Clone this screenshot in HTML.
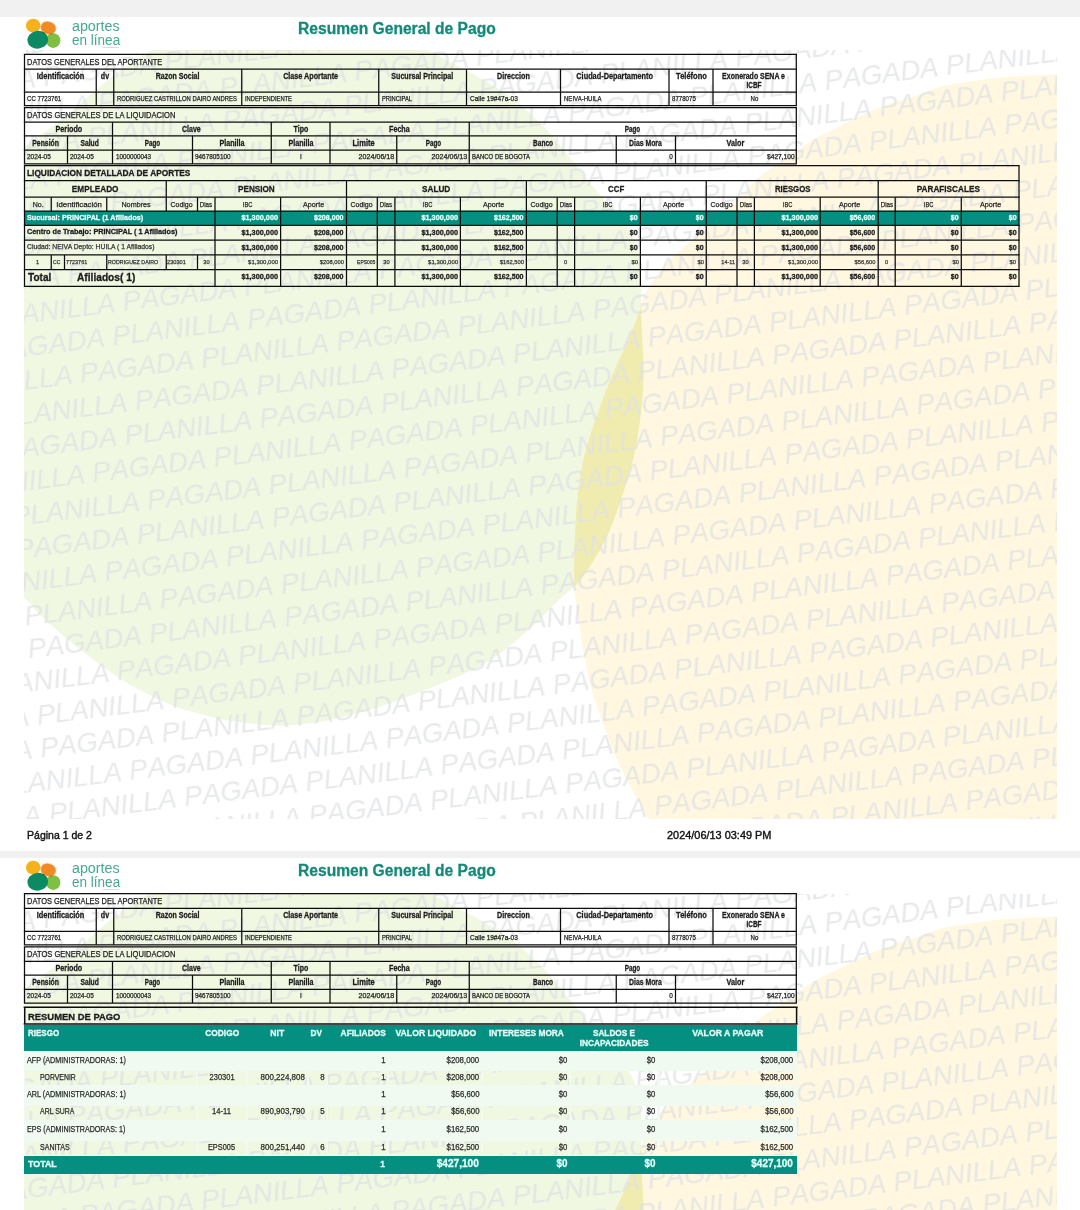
<!DOCTYPE html>
<html lang="es"><head><meta charset="utf-8"><title>Resumen General de Pago</title>
<style>
html,body{margin:0;padding:0}
body{width:1080px;height:1210px;overflow:hidden;position:relative;background:#f1f1f1;font-family:"Liberation Sans",sans-serif;}
.t{position:absolute;width:0;height:0;display:flex;overflow:visible}
.t span{white-space:nowrap;line-height:1;display:block;flex:none}
.bg{position:absolute;overflow:hidden}
#tx{position:absolute;left:0;top:0;width:1080px;height:1210px;will-change:transform}
.wm{position:absolute;left:0;top:0;width:0;height:0;transform-origin:0 0;transform:rotate(-7.065deg);
  filter:blur(0.45px);font-style:italic;font-kerning:none;font-size:27.51px;line-height:1;color:rgba(222,225,227,0.72);white-space:nowrap}
.wm div{position:absolute;white-space:nowrap}
</style></head><body>
<div style="position:absolute;left:0.00px;top:17.00px;width:1080.00px;height:834.20px;background:#fff;"></div>
<div style="position:absolute;left:0.00px;top:858.20px;width:1080.00px;height:351.80px;background:#fff;"></div>
<div class="bg" style="left:24px;top:49.50px;width:1032.60px;height:769.70px">
<div style="position:absolute;left:-24px;top:-49.50px;width:1080px;height:900px">
<svg width="1080" height="900" viewBox="0 0 1080 900" style="position:absolute;left:0;top:0"><defs><clipPath id="g0"><path d="M150.0,51.0C135.3,58.8 122.0,69.6 112.0,77.0C102.0,84.4 97.7,89.0 90.0,95.5C82.3,102.0 73.3,110.1 66.0,116.0C58.7,121.9 53.0,125.8 46.0,131.0C39.0,136.2 33.0,140.8 24.0,147.0C15.0,153.2 2.3,158.3 -8.0,168.0C-18.3,177.7 -29.0,189.7 -38.0,205.0C-47.0,220.3 -55.8,239.2 -62.0,260.0C-68.2,280.8 -72.3,306.7 -75.0,330.0C-77.7,353.3 -79.2,376.7 -78.0,400.0C-76.8,423.3 -73.5,449.2 -68.0,470.0C-62.5,490.8 -54.3,509.3 -45.0,525.0C-35.7,540.7 -23.6,551.9 -12.0,564.0C-0.4,576.1 15.4,589.0 24.4,597.8C33.4,606.6 35.5,610.2 42.2,616.7C48.9,623.2 57.0,630.4 64.4,636.7C71.8,643.0 79.3,648.7 86.7,654.4C94.1,660.1 101.5,665.9 108.9,671.1C116.3,676.3 123.7,681.3 131.1,685.6C138.5,689.9 145.9,693.2 153.3,696.7C160.7,700.2 168.2,703.9 175.6,706.7C183.0,709.5 190.4,711.3 197.8,713.3C205.2,715.3 212.6,717.4 220.0,718.9C227.4,720.4 233.5,721.1 242.2,722.2C250.9,723.3 263.5,725.2 272.2,725.6C280.9,726.0 287.0,725.5 294.4,724.9C301.8,724.3 309.3,723.4 316.7,722.2C324.1,721.0 331.5,719.5 338.9,717.8C346.3,716.1 353.7,714.2 361.1,712.2C368.5,710.2 375.9,708.0 383.3,705.6C390.7,703.2 398.2,700.6 405.6,697.8C413.0,695.0 420.4,691.9 427.8,688.9C435.2,685.9 442.6,683.1 450.0,680.0C457.4,676.9 465.2,673.5 472.2,670.0C479.2,666.5 485.2,663.6 492.2,659.0C499.2,654.4 507.0,648.3 514.4,642.2C521.8,636.1 529.3,629.2 536.7,622.2C544.1,615.2 552.7,605.9 558.9,600.0C565.1,594.1 570.3,590.4 574.0,587.0C577.7,583.6 577.9,583.7 581.0,579.5C584.1,575.3 589.1,567.8 592.9,561.7C596.6,555.7 600.0,550.2 603.5,543.2C607.0,536.2 610.8,527.8 614.1,519.4C617.4,511.0 620.4,501.7 623.3,492.9C626.2,484.1 629.0,475.3 631.3,466.5C633.6,457.7 635.4,450.4 637.2,440.0C639.0,429.6 640.8,415.2 641.9,404.0C643.0,392.8 643.5,382.8 643.6,373.0C643.7,363.2 642.9,353.8 642.5,345.0C642.1,336.2 641.8,327.5 641.5,320.0C641.2,312.5 641.1,307.5 641.0,300.0C640.9,292.5 641.5,283.3 641.0,275.0C640.5,266.7 640.2,257.8 638.0,250.0C635.8,242.2 632.3,235.0 628.0,228.0C623.7,221.0 617.7,214.7 612.0,208.0C606.3,201.3 601.0,196.3 594.0,188.0C587.0,179.7 578.0,167.8 570.0,158.0C562.0,148.2 555.5,138.8 546.0,129.0C536.5,119.2 525.8,108.5 513.0,99.0C500.2,89.5 487.8,81.8 469.0,72.0C450.2,62.2 428.2,48.3 400.0,40.0C371.8,31.7 333.3,23.7 300.0,22.0C266.7,20.3 225.0,25.2 200.0,30.0C175.0,34.8 164.7,43.2 150.0,51.0Z"/></clipPath></defs><path d="M150.0,51.0C135.3,58.8 122.0,69.6 112.0,77.0C102.0,84.4 97.7,89.0 90.0,95.5C82.3,102.0 73.3,110.1 66.0,116.0C58.7,121.9 53.0,125.8 46.0,131.0C39.0,136.2 33.0,140.8 24.0,147.0C15.0,153.2 2.3,158.3 -8.0,168.0C-18.3,177.7 -29.0,189.7 -38.0,205.0C-47.0,220.3 -55.8,239.2 -62.0,260.0C-68.2,280.8 -72.3,306.7 -75.0,330.0C-77.7,353.3 -79.2,376.7 -78.0,400.0C-76.8,423.3 -73.5,449.2 -68.0,470.0C-62.5,490.8 -54.3,509.3 -45.0,525.0C-35.7,540.7 -23.6,551.9 -12.0,564.0C-0.4,576.1 15.4,589.0 24.4,597.8C33.4,606.6 35.5,610.2 42.2,616.7C48.9,623.2 57.0,630.4 64.4,636.7C71.8,643.0 79.3,648.7 86.7,654.4C94.1,660.1 101.5,665.9 108.9,671.1C116.3,676.3 123.7,681.3 131.1,685.6C138.5,689.9 145.9,693.2 153.3,696.7C160.7,700.2 168.2,703.9 175.6,706.7C183.0,709.5 190.4,711.3 197.8,713.3C205.2,715.3 212.6,717.4 220.0,718.9C227.4,720.4 233.5,721.1 242.2,722.2C250.9,723.3 263.5,725.2 272.2,725.6C280.9,726.0 287.0,725.5 294.4,724.9C301.8,724.3 309.3,723.4 316.7,722.2C324.1,721.0 331.5,719.5 338.9,717.8C346.3,716.1 353.7,714.2 361.1,712.2C368.5,710.2 375.9,708.0 383.3,705.6C390.7,703.2 398.2,700.6 405.6,697.8C413.0,695.0 420.4,691.9 427.8,688.9C435.2,685.9 442.6,683.1 450.0,680.0C457.4,676.9 465.2,673.5 472.2,670.0C479.2,666.5 485.2,663.6 492.2,659.0C499.2,654.4 507.0,648.3 514.4,642.2C521.8,636.1 529.3,629.2 536.7,622.2C544.1,615.2 552.7,605.9 558.9,600.0C565.1,594.1 570.3,590.4 574.0,587.0C577.7,583.6 577.9,583.7 581.0,579.5C584.1,575.3 589.1,567.8 592.9,561.7C596.6,555.7 600.0,550.2 603.5,543.2C607.0,536.2 610.8,527.8 614.1,519.4C617.4,511.0 620.4,501.7 623.3,492.9C626.2,484.1 629.0,475.3 631.3,466.5C633.6,457.7 635.4,450.4 637.2,440.0C639.0,429.6 640.8,415.2 641.9,404.0C643.0,392.8 643.5,382.8 643.6,373.0C643.7,363.2 642.9,353.8 642.5,345.0C642.1,336.2 641.8,327.5 641.5,320.0C641.2,312.5 641.1,307.5 641.0,300.0C640.9,292.5 641.5,283.3 641.0,275.0C640.5,266.7 640.2,257.8 638.0,250.0C635.8,242.2 632.3,235.0 628.0,228.0C623.7,221.0 617.7,214.7 612.0,208.0C606.3,201.3 601.0,196.3 594.0,188.0C587.0,179.7 578.0,167.8 570.0,158.0C562.0,148.2 555.5,138.8 546.0,129.0C536.5,119.2 525.8,108.5 513.0,99.0C500.2,89.5 487.8,81.8 469.0,72.0C450.2,62.2 428.2,48.3 400.0,40.0C371.8,31.7 333.3,23.7 300.0,22.0C266.7,20.3 225.0,25.2 200.0,30.0C175.0,34.8 164.7,43.2 150.0,51.0Z" fill="#f0f8e1"/><path d="M1100.0,72.0C1092.6,-58.9 1067.4,73.8 1055.6,74.4C1043.8,75.0 1040.8,74.8 1028.9,75.6C1017.0,76.4 999.2,77.6 984.4,79.4C969.6,81.2 950.7,84.2 940.0,86.7C929.3,89.2 927.5,91.9 920.0,94.4C912.5,97.0 903.2,99.2 895.0,102.0C886.8,104.8 878.0,108.1 871.0,111.0C864.0,113.9 859.3,116.4 853.0,119.5C846.7,122.6 839.0,126.7 833.3,129.6C827.5,132.5 823.4,134.3 818.5,137.0C813.6,139.7 808.6,142.7 803.7,145.9C798.8,149.1 793.8,152.8 788.9,156.3C784.0,159.8 779.0,163.2 774.1,166.7C769.2,170.1 763.5,173.6 759.3,177.0C755.1,180.4 752.6,183.6 748.9,187.4C745.2,191.2 742.6,194.4 737.0,200.0C731.4,205.6 722.0,214.7 715.0,221.0C708.0,227.3 701.2,232.8 695.0,238.0C688.8,243.2 683.2,247.3 678.0,252.0C672.8,256.7 668.2,261.2 664.0,266.0C659.8,270.8 656.3,275.8 653.0,281.0C649.7,286.2 646.4,291.5 644.0,297.0C641.6,302.5 641.3,306.5 638.5,314.0C635.7,321.5 631.6,332.2 627.4,342.0C623.1,351.8 617.4,362.7 613.0,373.0C608.6,383.3 604.9,393.3 601.0,404.0C597.1,414.7 592.7,426.6 589.5,437.0C586.3,447.4 583.9,457.2 582.0,466.5C580.1,475.8 579.1,484.1 578.0,493.0C576.9,501.9 576.2,511.2 575.6,520.0C575.0,528.8 574.9,537.3 574.6,546.0C574.4,554.7 574.2,565.0 574.1,572.0C574.0,579.0 573.6,582.2 574.0,588.0C574.4,593.8 575.7,599.9 576.7,606.7C577.7,613.5 578.9,621.5 580.0,628.9C581.1,636.3 582.0,643.7 583.3,651.1C584.6,658.5 586.1,665.9 587.8,673.3C589.5,680.7 590.5,686.6 593.3,695.6C596.1,704.6 600.4,716.2 604.4,727.0C608.4,737.8 612.5,749.3 617.4,760.4C622.3,771.5 628.8,784.0 634.0,793.7C639.2,803.4 642.9,807.7 648.9,818.7C654.9,829.8 594.8,853.1 670.0,860.0C745.2,866.9 1028.3,991.3 1100.0,860.0C1171.7,728.7 1107.4,202.9 1100.0,72.0Z" fill="#fff7e0"/><path d="M1100.0,72.0C1092.6,-58.9 1067.4,73.8 1055.6,74.4C1043.8,75.0 1040.8,74.8 1028.9,75.6C1017.0,76.4 999.2,77.6 984.4,79.4C969.6,81.2 950.7,84.2 940.0,86.7C929.3,89.2 927.5,91.9 920.0,94.4C912.5,97.0 903.2,99.2 895.0,102.0C886.8,104.8 878.0,108.1 871.0,111.0C864.0,113.9 859.3,116.4 853.0,119.5C846.7,122.6 839.0,126.7 833.3,129.6C827.5,132.5 823.4,134.3 818.5,137.0C813.6,139.7 808.6,142.7 803.7,145.9C798.8,149.1 793.8,152.8 788.9,156.3C784.0,159.8 779.0,163.2 774.1,166.7C769.2,170.1 763.5,173.6 759.3,177.0C755.1,180.4 752.6,183.6 748.9,187.4C745.2,191.2 742.6,194.4 737.0,200.0C731.4,205.6 722.0,214.7 715.0,221.0C708.0,227.3 701.2,232.8 695.0,238.0C688.8,243.2 683.2,247.3 678.0,252.0C672.8,256.7 668.2,261.2 664.0,266.0C659.8,270.8 656.3,275.8 653.0,281.0C649.7,286.2 646.4,291.5 644.0,297.0C641.6,302.5 641.3,306.5 638.5,314.0C635.7,321.5 631.6,332.2 627.4,342.0C623.1,351.8 617.4,362.7 613.0,373.0C608.6,383.3 604.9,393.3 601.0,404.0C597.1,414.7 592.7,426.6 589.5,437.0C586.3,447.4 583.9,457.2 582.0,466.5C580.1,475.8 579.1,484.1 578.0,493.0C576.9,501.9 576.2,511.2 575.6,520.0C575.0,528.8 574.9,537.3 574.6,546.0C574.4,554.7 574.2,565.0 574.1,572.0C574.0,579.0 573.6,582.2 574.0,588.0C574.4,593.8 575.7,599.9 576.7,606.7C577.7,613.5 578.9,621.5 580.0,628.9C581.1,636.3 582.0,643.7 583.3,651.1C584.6,658.5 586.1,665.9 587.8,673.3C589.5,680.7 590.5,686.6 593.3,695.6C596.1,704.6 600.4,716.2 604.4,727.0C608.4,737.8 612.5,749.3 617.4,760.4C622.3,771.5 628.8,784.0 634.0,793.7C639.2,803.4 642.9,807.7 648.9,818.7C654.9,829.8 594.8,853.1 670.0,860.0C745.2,866.9 1028.3,991.3 1100.0,860.0C1171.7,728.7 1107.4,202.9 1100.0,72.0Z" fill="#f0ecb0" clip-path="url(#g0)"/></svg>
<div class="wm">
<div style="left:-361.0px;top:-32.37px">PLANILLA PAGADA PLANILLA PAGADA PLANILLA PAGADA PLANILLA PAGADA PLANILLA PAGADA PLANILLA PAGADA PLANILLA PAGADA </div>
<div style="left:-309.8px;top:0.94px">PLANILLA PAGADA PLANILLA PAGADA PLANILLA PAGADA PLANILLA PAGADA PLANILLA PAGADA PLANILLA PAGADA PLANILLA PAGADA </div>
<div style="left:-446.7px;top:34.26px">PLANILLA PAGADA PLANILLA PAGADA PLANILLA PAGADA PLANILLA PAGADA PLANILLA PAGADA PLANILLA PAGADA PLANILLA PAGADA </div>
<div style="left:-361.0px;top:67.57px">PLANILLA PAGADA PLANILLA PAGADA PLANILLA PAGADA PLANILLA PAGADA PLANILLA PAGADA PLANILLA PAGADA PLANILLA PAGADA </div>
<div style="left:-309.8px;top:100.89px">PLANILLA PAGADA PLANILLA PAGADA PLANILLA PAGADA PLANILLA PAGADA PLANILLA PAGADA PLANILLA PAGADA PLANILLA PAGADA </div>
<div style="left:-446.7px;top:134.20px">PLANILLA PAGADA PLANILLA PAGADA PLANILLA PAGADA PLANILLA PAGADA PLANILLA PAGADA PLANILLA PAGADA PLANILLA PAGADA </div>
<div style="left:-361.0px;top:167.51px">PLANILLA PAGADA PLANILLA PAGADA PLANILLA PAGADA PLANILLA PAGADA PLANILLA PAGADA PLANILLA PAGADA PLANILLA PAGADA </div>
<div style="left:-309.8px;top:200.83px">PLANILLA PAGADA PLANILLA PAGADA PLANILLA PAGADA PLANILLA PAGADA PLANILLA PAGADA PLANILLA PAGADA PLANILLA PAGADA </div>
<div style="left:-446.7px;top:234.14px">PLANILLA PAGADA PLANILLA PAGADA PLANILLA PAGADA PLANILLA PAGADA PLANILLA PAGADA PLANILLA PAGADA PLANILLA PAGADA </div>
<div style="left:-361.0px;top:267.46px">PLANILLA PAGADA PLANILLA PAGADA PLANILLA PAGADA PLANILLA PAGADA PLANILLA PAGADA PLANILLA PAGADA PLANILLA PAGADA </div>
<div style="left:-309.8px;top:300.77px">PLANILLA PAGADA PLANILLA PAGADA PLANILLA PAGADA PLANILLA PAGADA PLANILLA PAGADA PLANILLA PAGADA PLANILLA PAGADA </div>
<div style="left:-446.7px;top:334.08px">PLANILLA PAGADA PLANILLA PAGADA PLANILLA PAGADA PLANILLA PAGADA PLANILLA PAGADA PLANILLA PAGADA PLANILLA PAGADA </div>
<div style="left:-361.0px;top:367.40px">PLANILLA PAGADA PLANILLA PAGADA PLANILLA PAGADA PLANILLA PAGADA PLANILLA PAGADA PLANILLA PAGADA PLANILLA PAGADA </div>
<div style="left:-309.8px;top:400.71px">PLANILLA PAGADA PLANILLA PAGADA PLANILLA PAGADA PLANILLA PAGADA PLANILLA PAGADA PLANILLA PAGADA PLANILLA PAGADA </div>
<div style="left:-446.7px;top:434.03px">PLANILLA PAGADA PLANILLA PAGADA PLANILLA PAGADA PLANILLA PAGADA PLANILLA PAGADA PLANILLA PAGADA PLANILLA PAGADA </div>
<div style="left:-361.0px;top:467.34px">PLANILLA PAGADA PLANILLA PAGADA PLANILLA PAGADA PLANILLA PAGADA PLANILLA PAGADA PLANILLA PAGADA PLANILLA PAGADA </div>
<div style="left:-309.8px;top:500.65px">PLANILLA PAGADA PLANILLA PAGADA PLANILLA PAGADA PLANILLA PAGADA PLANILLA PAGADA PLANILLA PAGADA PLANILLA PAGADA </div>
<div style="left:-446.7px;top:533.97px">PLANILLA PAGADA PLANILLA PAGADA PLANILLA PAGADA PLANILLA PAGADA PLANILLA PAGADA PLANILLA PAGADA PLANILLA PAGADA </div>
<div style="left:-361.0px;top:567.28px">PLANILLA PAGADA PLANILLA PAGADA PLANILLA PAGADA PLANILLA PAGADA PLANILLA PAGADA PLANILLA PAGADA PLANILLA PAGADA </div>
<div style="left:-309.8px;top:600.60px">PLANILLA PAGADA PLANILLA PAGADA PLANILLA PAGADA PLANILLA PAGADA PLANILLA PAGADA PLANILLA PAGADA PLANILLA PAGADA </div>
<div style="left:-446.7px;top:633.91px">PLANILLA PAGADA PLANILLA PAGADA PLANILLA PAGADA PLANILLA PAGADA PLANILLA PAGADA PLANILLA PAGADA PLANILLA PAGADA </div>
<div style="left:-361.0px;top:667.22px">PLANILLA PAGADA PLANILLA PAGADA PLANILLA PAGADA PLANILLA PAGADA PLANILLA PAGADA PLANILLA PAGADA PLANILLA PAGADA </div>
<div style="left:-309.8px;top:700.54px">PLANILLA PAGADA PLANILLA PAGADA PLANILLA PAGADA PLANILLA PAGADA PLANILLA PAGADA PLANILLA PAGADA PLANILLA PAGADA </div>
<div style="left:-446.7px;top:733.85px">PLANILLA PAGADA PLANILLA PAGADA PLANILLA PAGADA PLANILLA PAGADA PLANILLA PAGADA PLANILLA PAGADA PLANILLA PAGADA </div>
<div style="left:-361.0px;top:767.17px">PLANILLA PAGADA PLANILLA PAGADA PLANILLA PAGADA PLANILLA PAGADA PLANILLA PAGADA PLANILLA PAGADA PLANILLA PAGADA </div>
<div style="left:-309.8px;top:800.48px">PLANILLA PAGADA PLANILLA PAGADA PLANILLA PAGADA PLANILLA PAGADA PLANILLA PAGADA PLANILLA PAGADA PLANILLA PAGADA </div>
<div style="left:-446.7px;top:833.79px">PLANILLA PAGADA PLANILLA PAGADA PLANILLA PAGADA PLANILLA PAGADA PLANILLA PAGADA PLANILLA PAGADA PLANILLA PAGADA </div>
<div style="left:-361.0px;top:867.11px">PLANILLA PAGADA PLANILLA PAGADA PLANILLA PAGADA PLANILLA PAGADA PLANILLA PAGADA PLANILLA PAGADA PLANILLA PAGADA </div>
<div style="left:-309.8px;top:900.42px">PLANILLA PAGADA PLANILLA PAGADA PLANILLA PAGADA PLANILLA PAGADA PLANILLA PAGADA PLANILLA PAGADA PLANILLA PAGADA </div>
<div style="left:-446.7px;top:933.74px">PLANILLA PAGADA PLANILLA PAGADA PLANILLA PAGADA PLANILLA PAGADA PLANILLA PAGADA PLANILLA PAGADA PLANILLA PAGADA </div>
<div style="left:-361.0px;top:967.05px">PLANILLA PAGADA PLANILLA PAGADA PLANILLA PAGADA PLANILLA PAGADA PLANILLA PAGADA PLANILLA PAGADA PLANILLA PAGADA </div>
<div style="left:-309.8px;top:1000.36px">PLANILLA PAGADA PLANILLA PAGADA PLANILLA PAGADA PLANILLA PAGADA PLANILLA PAGADA PLANILLA PAGADA PLANILLA PAGADA </div>
</div></div></div>
<div class="bg" style="left:24px;top:893.80px;width:1032.60px;height:767.00px">
<div style="position:absolute;left:-24px;top:-52.20px;width:1080px;height:900px">
<svg width="1080" height="900" viewBox="0 0 1080 900" style="position:absolute;left:0;top:0"><defs><clipPath id="g841"><path d="M150.0,51.0C135.3,58.8 122.0,69.6 112.0,77.0C102.0,84.4 97.7,89.0 90.0,95.5C82.3,102.0 73.3,110.1 66.0,116.0C58.7,121.9 53.0,125.8 46.0,131.0C39.0,136.2 33.0,140.8 24.0,147.0C15.0,153.2 2.3,158.3 -8.0,168.0C-18.3,177.7 -29.0,189.7 -38.0,205.0C-47.0,220.3 -55.8,239.2 -62.0,260.0C-68.2,280.8 -72.3,306.7 -75.0,330.0C-77.7,353.3 -79.2,376.7 -78.0,400.0C-76.8,423.3 -73.5,449.2 -68.0,470.0C-62.5,490.8 -54.3,509.3 -45.0,525.0C-35.7,540.7 -23.6,551.9 -12.0,564.0C-0.4,576.1 15.4,589.0 24.4,597.8C33.4,606.6 35.5,610.2 42.2,616.7C48.9,623.2 57.0,630.4 64.4,636.7C71.8,643.0 79.3,648.7 86.7,654.4C94.1,660.1 101.5,665.9 108.9,671.1C116.3,676.3 123.7,681.3 131.1,685.6C138.5,689.9 145.9,693.2 153.3,696.7C160.7,700.2 168.2,703.9 175.6,706.7C183.0,709.5 190.4,711.3 197.8,713.3C205.2,715.3 212.6,717.4 220.0,718.9C227.4,720.4 233.5,721.1 242.2,722.2C250.9,723.3 263.5,725.2 272.2,725.6C280.9,726.0 287.0,725.5 294.4,724.9C301.8,724.3 309.3,723.4 316.7,722.2C324.1,721.0 331.5,719.5 338.9,717.8C346.3,716.1 353.7,714.2 361.1,712.2C368.5,710.2 375.9,708.0 383.3,705.6C390.7,703.2 398.2,700.6 405.6,697.8C413.0,695.0 420.4,691.9 427.8,688.9C435.2,685.9 442.6,683.1 450.0,680.0C457.4,676.9 465.2,673.5 472.2,670.0C479.2,666.5 485.2,663.6 492.2,659.0C499.2,654.4 507.0,648.3 514.4,642.2C521.8,636.1 529.3,629.2 536.7,622.2C544.1,615.2 552.7,605.9 558.9,600.0C565.1,594.1 570.3,590.4 574.0,587.0C577.7,583.6 577.9,583.7 581.0,579.5C584.1,575.3 589.1,567.8 592.9,561.7C596.6,555.7 600.0,550.2 603.5,543.2C607.0,536.2 610.8,527.8 614.1,519.4C617.4,511.0 620.4,501.7 623.3,492.9C626.2,484.1 629.0,475.3 631.3,466.5C633.6,457.7 635.4,450.4 637.2,440.0C639.0,429.6 640.8,415.2 641.9,404.0C643.0,392.8 643.5,382.8 643.6,373.0C643.7,363.2 642.9,353.8 642.5,345.0C642.1,336.2 641.8,327.5 641.5,320.0C641.2,312.5 641.1,307.5 641.0,300.0C640.9,292.5 641.5,283.3 641.0,275.0C640.5,266.7 640.2,257.8 638.0,250.0C635.8,242.2 632.3,235.0 628.0,228.0C623.7,221.0 617.7,214.7 612.0,208.0C606.3,201.3 601.0,196.3 594.0,188.0C587.0,179.7 578.0,167.8 570.0,158.0C562.0,148.2 555.5,138.8 546.0,129.0C536.5,119.2 525.8,108.5 513.0,99.0C500.2,89.5 487.8,81.8 469.0,72.0C450.2,62.2 428.2,48.3 400.0,40.0C371.8,31.7 333.3,23.7 300.0,22.0C266.7,20.3 225.0,25.2 200.0,30.0C175.0,34.8 164.7,43.2 150.0,51.0Z"/></clipPath></defs><path d="M150.0,51.0C135.3,58.8 122.0,69.6 112.0,77.0C102.0,84.4 97.7,89.0 90.0,95.5C82.3,102.0 73.3,110.1 66.0,116.0C58.7,121.9 53.0,125.8 46.0,131.0C39.0,136.2 33.0,140.8 24.0,147.0C15.0,153.2 2.3,158.3 -8.0,168.0C-18.3,177.7 -29.0,189.7 -38.0,205.0C-47.0,220.3 -55.8,239.2 -62.0,260.0C-68.2,280.8 -72.3,306.7 -75.0,330.0C-77.7,353.3 -79.2,376.7 -78.0,400.0C-76.8,423.3 -73.5,449.2 -68.0,470.0C-62.5,490.8 -54.3,509.3 -45.0,525.0C-35.7,540.7 -23.6,551.9 -12.0,564.0C-0.4,576.1 15.4,589.0 24.4,597.8C33.4,606.6 35.5,610.2 42.2,616.7C48.9,623.2 57.0,630.4 64.4,636.7C71.8,643.0 79.3,648.7 86.7,654.4C94.1,660.1 101.5,665.9 108.9,671.1C116.3,676.3 123.7,681.3 131.1,685.6C138.5,689.9 145.9,693.2 153.3,696.7C160.7,700.2 168.2,703.9 175.6,706.7C183.0,709.5 190.4,711.3 197.8,713.3C205.2,715.3 212.6,717.4 220.0,718.9C227.4,720.4 233.5,721.1 242.2,722.2C250.9,723.3 263.5,725.2 272.2,725.6C280.9,726.0 287.0,725.5 294.4,724.9C301.8,724.3 309.3,723.4 316.7,722.2C324.1,721.0 331.5,719.5 338.9,717.8C346.3,716.1 353.7,714.2 361.1,712.2C368.5,710.2 375.9,708.0 383.3,705.6C390.7,703.2 398.2,700.6 405.6,697.8C413.0,695.0 420.4,691.9 427.8,688.9C435.2,685.9 442.6,683.1 450.0,680.0C457.4,676.9 465.2,673.5 472.2,670.0C479.2,666.5 485.2,663.6 492.2,659.0C499.2,654.4 507.0,648.3 514.4,642.2C521.8,636.1 529.3,629.2 536.7,622.2C544.1,615.2 552.7,605.9 558.9,600.0C565.1,594.1 570.3,590.4 574.0,587.0C577.7,583.6 577.9,583.7 581.0,579.5C584.1,575.3 589.1,567.8 592.9,561.7C596.6,555.7 600.0,550.2 603.5,543.2C607.0,536.2 610.8,527.8 614.1,519.4C617.4,511.0 620.4,501.7 623.3,492.9C626.2,484.1 629.0,475.3 631.3,466.5C633.6,457.7 635.4,450.4 637.2,440.0C639.0,429.6 640.8,415.2 641.9,404.0C643.0,392.8 643.5,382.8 643.6,373.0C643.7,363.2 642.9,353.8 642.5,345.0C642.1,336.2 641.8,327.5 641.5,320.0C641.2,312.5 641.1,307.5 641.0,300.0C640.9,292.5 641.5,283.3 641.0,275.0C640.5,266.7 640.2,257.8 638.0,250.0C635.8,242.2 632.3,235.0 628.0,228.0C623.7,221.0 617.7,214.7 612.0,208.0C606.3,201.3 601.0,196.3 594.0,188.0C587.0,179.7 578.0,167.8 570.0,158.0C562.0,148.2 555.5,138.8 546.0,129.0C536.5,119.2 525.8,108.5 513.0,99.0C500.2,89.5 487.8,81.8 469.0,72.0C450.2,62.2 428.2,48.3 400.0,40.0C371.8,31.7 333.3,23.7 300.0,22.0C266.7,20.3 225.0,25.2 200.0,30.0C175.0,34.8 164.7,43.2 150.0,51.0Z" fill="#f0f8e1"/><path d="M1100.0,72.0C1092.6,-58.9 1067.4,73.8 1055.6,74.4C1043.8,75.0 1040.8,74.8 1028.9,75.6C1017.0,76.4 999.2,77.6 984.4,79.4C969.6,81.2 950.7,84.2 940.0,86.7C929.3,89.2 927.5,91.9 920.0,94.4C912.5,97.0 903.2,99.2 895.0,102.0C886.8,104.8 878.0,108.1 871.0,111.0C864.0,113.9 859.3,116.4 853.0,119.5C846.7,122.6 839.0,126.7 833.3,129.6C827.5,132.5 823.4,134.3 818.5,137.0C813.6,139.7 808.6,142.7 803.7,145.9C798.8,149.1 793.8,152.8 788.9,156.3C784.0,159.8 779.0,163.2 774.1,166.7C769.2,170.1 763.5,173.6 759.3,177.0C755.1,180.4 752.6,183.6 748.9,187.4C745.2,191.2 742.6,194.4 737.0,200.0C731.4,205.6 722.0,214.7 715.0,221.0C708.0,227.3 701.2,232.8 695.0,238.0C688.8,243.2 683.2,247.3 678.0,252.0C672.8,256.7 668.2,261.2 664.0,266.0C659.8,270.8 656.3,275.8 653.0,281.0C649.7,286.2 646.4,291.5 644.0,297.0C641.6,302.5 641.3,306.5 638.5,314.0C635.7,321.5 631.6,332.2 627.4,342.0C623.1,351.8 617.4,362.7 613.0,373.0C608.6,383.3 604.9,393.3 601.0,404.0C597.1,414.7 592.7,426.6 589.5,437.0C586.3,447.4 583.9,457.2 582.0,466.5C580.1,475.8 579.1,484.1 578.0,493.0C576.9,501.9 576.2,511.2 575.6,520.0C575.0,528.8 574.9,537.3 574.6,546.0C574.4,554.7 574.2,565.0 574.1,572.0C574.0,579.0 573.6,582.2 574.0,588.0C574.4,593.8 575.7,599.9 576.7,606.7C577.7,613.5 578.9,621.5 580.0,628.9C581.1,636.3 582.0,643.7 583.3,651.1C584.6,658.5 586.1,665.9 587.8,673.3C589.5,680.7 590.5,686.6 593.3,695.6C596.1,704.6 600.4,716.2 604.4,727.0C608.4,737.8 612.5,749.3 617.4,760.4C622.3,771.5 628.8,784.0 634.0,793.7C639.2,803.4 642.9,807.7 648.9,818.7C654.9,829.8 594.8,853.1 670.0,860.0C745.2,866.9 1028.3,991.3 1100.0,860.0C1171.7,728.7 1107.4,202.9 1100.0,72.0Z" fill="#fff7e0"/><path d="M1100.0,72.0C1092.6,-58.9 1067.4,73.8 1055.6,74.4C1043.8,75.0 1040.8,74.8 1028.9,75.6C1017.0,76.4 999.2,77.6 984.4,79.4C969.6,81.2 950.7,84.2 940.0,86.7C929.3,89.2 927.5,91.9 920.0,94.4C912.5,97.0 903.2,99.2 895.0,102.0C886.8,104.8 878.0,108.1 871.0,111.0C864.0,113.9 859.3,116.4 853.0,119.5C846.7,122.6 839.0,126.7 833.3,129.6C827.5,132.5 823.4,134.3 818.5,137.0C813.6,139.7 808.6,142.7 803.7,145.9C798.8,149.1 793.8,152.8 788.9,156.3C784.0,159.8 779.0,163.2 774.1,166.7C769.2,170.1 763.5,173.6 759.3,177.0C755.1,180.4 752.6,183.6 748.9,187.4C745.2,191.2 742.6,194.4 737.0,200.0C731.4,205.6 722.0,214.7 715.0,221.0C708.0,227.3 701.2,232.8 695.0,238.0C688.8,243.2 683.2,247.3 678.0,252.0C672.8,256.7 668.2,261.2 664.0,266.0C659.8,270.8 656.3,275.8 653.0,281.0C649.7,286.2 646.4,291.5 644.0,297.0C641.6,302.5 641.3,306.5 638.5,314.0C635.7,321.5 631.6,332.2 627.4,342.0C623.1,351.8 617.4,362.7 613.0,373.0C608.6,383.3 604.9,393.3 601.0,404.0C597.1,414.7 592.7,426.6 589.5,437.0C586.3,447.4 583.9,457.2 582.0,466.5C580.1,475.8 579.1,484.1 578.0,493.0C576.9,501.9 576.2,511.2 575.6,520.0C575.0,528.8 574.9,537.3 574.6,546.0C574.4,554.7 574.2,565.0 574.1,572.0C574.0,579.0 573.6,582.2 574.0,588.0C574.4,593.8 575.7,599.9 576.7,606.7C577.7,613.5 578.9,621.5 580.0,628.9C581.1,636.3 582.0,643.7 583.3,651.1C584.6,658.5 586.1,665.9 587.8,673.3C589.5,680.7 590.5,686.6 593.3,695.6C596.1,704.6 600.4,716.2 604.4,727.0C608.4,737.8 612.5,749.3 617.4,760.4C622.3,771.5 628.8,784.0 634.0,793.7C639.2,803.4 642.9,807.7 648.9,818.7C654.9,829.8 594.8,853.1 670.0,860.0C745.2,866.9 1028.3,991.3 1100.0,860.0C1171.7,728.7 1107.4,202.9 1100.0,72.0Z" fill="#f0ecb0" clip-path="url(#g841)"/></svg>
<div class="wm">
<div style="left:-361.0px;top:-32.37px">PLANILLA PAGADA PLANILLA PAGADA PLANILLA PAGADA PLANILLA PAGADA PLANILLA PAGADA PLANILLA PAGADA PLANILLA PAGADA </div>
<div style="left:-309.8px;top:0.94px">PLANILLA PAGADA PLANILLA PAGADA PLANILLA PAGADA PLANILLA PAGADA PLANILLA PAGADA PLANILLA PAGADA PLANILLA PAGADA </div>
<div style="left:-446.7px;top:34.26px">PLANILLA PAGADA PLANILLA PAGADA PLANILLA PAGADA PLANILLA PAGADA PLANILLA PAGADA PLANILLA PAGADA PLANILLA PAGADA </div>
<div style="left:-361.0px;top:67.57px">PLANILLA PAGADA PLANILLA PAGADA PLANILLA PAGADA PLANILLA PAGADA PLANILLA PAGADA PLANILLA PAGADA PLANILLA PAGADA </div>
<div style="left:-309.8px;top:100.89px">PLANILLA PAGADA PLANILLA PAGADA PLANILLA PAGADA PLANILLA PAGADA PLANILLA PAGADA PLANILLA PAGADA PLANILLA PAGADA </div>
<div style="left:-446.7px;top:134.20px">PLANILLA PAGADA PLANILLA PAGADA PLANILLA PAGADA PLANILLA PAGADA PLANILLA PAGADA PLANILLA PAGADA PLANILLA PAGADA </div>
<div style="left:-361.0px;top:167.51px">PLANILLA PAGADA PLANILLA PAGADA PLANILLA PAGADA PLANILLA PAGADA PLANILLA PAGADA PLANILLA PAGADA PLANILLA PAGADA </div>
<div style="left:-309.8px;top:200.83px">PLANILLA PAGADA PLANILLA PAGADA PLANILLA PAGADA PLANILLA PAGADA PLANILLA PAGADA PLANILLA PAGADA PLANILLA PAGADA </div>
<div style="left:-446.7px;top:234.14px">PLANILLA PAGADA PLANILLA PAGADA PLANILLA PAGADA PLANILLA PAGADA PLANILLA PAGADA PLANILLA PAGADA PLANILLA PAGADA </div>
<div style="left:-361.0px;top:267.46px">PLANILLA PAGADA PLANILLA PAGADA PLANILLA PAGADA PLANILLA PAGADA PLANILLA PAGADA PLANILLA PAGADA PLANILLA PAGADA </div>
<div style="left:-309.8px;top:300.77px">PLANILLA PAGADA PLANILLA PAGADA PLANILLA PAGADA PLANILLA PAGADA PLANILLA PAGADA PLANILLA PAGADA PLANILLA PAGADA </div>
<div style="left:-446.7px;top:334.08px">PLANILLA PAGADA PLANILLA PAGADA PLANILLA PAGADA PLANILLA PAGADA PLANILLA PAGADA PLANILLA PAGADA PLANILLA PAGADA </div>
<div style="left:-361.0px;top:367.40px">PLANILLA PAGADA PLANILLA PAGADA PLANILLA PAGADA PLANILLA PAGADA PLANILLA PAGADA PLANILLA PAGADA PLANILLA PAGADA </div>
<div style="left:-309.8px;top:400.71px">PLANILLA PAGADA PLANILLA PAGADA PLANILLA PAGADA PLANILLA PAGADA PLANILLA PAGADA PLANILLA PAGADA PLANILLA PAGADA </div>
<div style="left:-446.7px;top:434.03px">PLANILLA PAGADA PLANILLA PAGADA PLANILLA PAGADA PLANILLA PAGADA PLANILLA PAGADA PLANILLA PAGADA PLANILLA PAGADA </div>
<div style="left:-361.0px;top:467.34px">PLANILLA PAGADA PLANILLA PAGADA PLANILLA PAGADA PLANILLA PAGADA PLANILLA PAGADA PLANILLA PAGADA PLANILLA PAGADA </div>
<div style="left:-309.8px;top:500.65px">PLANILLA PAGADA PLANILLA PAGADA PLANILLA PAGADA PLANILLA PAGADA PLANILLA PAGADA PLANILLA PAGADA PLANILLA PAGADA </div>
<div style="left:-446.7px;top:533.97px">PLANILLA PAGADA PLANILLA PAGADA PLANILLA PAGADA PLANILLA PAGADA PLANILLA PAGADA PLANILLA PAGADA PLANILLA PAGADA </div>
<div style="left:-361.0px;top:567.28px">PLANILLA PAGADA PLANILLA PAGADA PLANILLA PAGADA PLANILLA PAGADA PLANILLA PAGADA PLANILLA PAGADA PLANILLA PAGADA </div>
<div style="left:-309.8px;top:600.60px">PLANILLA PAGADA PLANILLA PAGADA PLANILLA PAGADA PLANILLA PAGADA PLANILLA PAGADA PLANILLA PAGADA PLANILLA PAGADA </div>
<div style="left:-446.7px;top:633.91px">PLANILLA PAGADA PLANILLA PAGADA PLANILLA PAGADA PLANILLA PAGADA PLANILLA PAGADA PLANILLA PAGADA PLANILLA PAGADA </div>
<div style="left:-361.0px;top:667.22px">PLANILLA PAGADA PLANILLA PAGADA PLANILLA PAGADA PLANILLA PAGADA PLANILLA PAGADA PLANILLA PAGADA PLANILLA PAGADA </div>
<div style="left:-309.8px;top:700.54px">PLANILLA PAGADA PLANILLA PAGADA PLANILLA PAGADA PLANILLA PAGADA PLANILLA PAGADA PLANILLA PAGADA PLANILLA PAGADA </div>
<div style="left:-446.7px;top:733.85px">PLANILLA PAGADA PLANILLA PAGADA PLANILLA PAGADA PLANILLA PAGADA PLANILLA PAGADA PLANILLA PAGADA PLANILLA PAGADA </div>
<div style="left:-361.0px;top:767.17px">PLANILLA PAGADA PLANILLA PAGADA PLANILLA PAGADA PLANILLA PAGADA PLANILLA PAGADA PLANILLA PAGADA PLANILLA PAGADA </div>
<div style="left:-309.8px;top:800.48px">PLANILLA PAGADA PLANILLA PAGADA PLANILLA PAGADA PLANILLA PAGADA PLANILLA PAGADA PLANILLA PAGADA PLANILLA PAGADA </div>
<div style="left:-446.7px;top:833.79px">PLANILLA PAGADA PLANILLA PAGADA PLANILLA PAGADA PLANILLA PAGADA PLANILLA PAGADA PLANILLA PAGADA PLANILLA PAGADA </div>
<div style="left:-361.0px;top:867.11px">PLANILLA PAGADA PLANILLA PAGADA PLANILLA PAGADA PLANILLA PAGADA PLANILLA PAGADA PLANILLA PAGADA PLANILLA PAGADA </div>
<div style="left:-309.8px;top:900.42px">PLANILLA PAGADA PLANILLA PAGADA PLANILLA PAGADA PLANILLA PAGADA PLANILLA PAGADA PLANILLA PAGADA PLANILLA PAGADA </div>
<div style="left:-446.7px;top:933.74px">PLANILLA PAGADA PLANILLA PAGADA PLANILLA PAGADA PLANILLA PAGADA PLANILLA PAGADA PLANILLA PAGADA PLANILLA PAGADA </div>
<div style="left:-361.0px;top:967.05px">PLANILLA PAGADA PLANILLA PAGADA PLANILLA PAGADA PLANILLA PAGADA PLANILLA PAGADA PLANILLA PAGADA PLANILLA PAGADA </div>
<div style="left:-309.8px;top:1000.36px">PLANILLA PAGADA PLANILLA PAGADA PLANILLA PAGADA PLANILLA PAGADA PLANILLA PAGADA PLANILLA PAGADA PLANILLA PAGADA </div>
</div></div></div>
<svg width="60" height="40" viewBox="20 14 60 40" style="position:absolute;left:20px;top:14.00px"><ellipse cx="33.2" cy="25.6" rx="7.3" ry="6.9" fill="#f6b21b"/><ellipse cx="53.2" cy="40.6" rx="7.2" ry="7.4" fill="#7fc043"/><ellipse cx="37.8" cy="39.8" rx="10.4" ry="8.9" fill="#0c8a63" transform="rotate(-8 37.8 39.8)"/><ellipse cx="48.3" cy="27.9" rx="7.8" ry="6.4" fill="#f08a24" transform="rotate(18 48.3 27.9)" style="mix-blend-mode:multiply"/></svg>
<div style="position:absolute;left:103.30px;top:47.40px;width:16.10px;height:0.80px;background:#d8dcda;"></div>
<svg width="60" height="40" viewBox="20 14 60 40" style="position:absolute;left:20px;top:856.00px"><ellipse cx="33.2" cy="25.6" rx="7.3" ry="6.9" fill="#f6b21b"/><ellipse cx="53.2" cy="40.6" rx="7.2" ry="7.4" fill="#7fc043"/><ellipse cx="37.8" cy="39.8" rx="10.4" ry="8.9" fill="#0c8a63" transform="rotate(-8 37.8 39.8)"/><ellipse cx="48.3" cy="27.9" rx="7.8" ry="6.4" fill="#f08a24" transform="rotate(18 48.3 27.9)" style="mix-blend-mode:multiply"/></svg>
<div style="position:absolute;left:103.30px;top:889.40px;width:16.10px;height:0.80px;background:#d8dcda;"></div>
<div style="position:absolute;left:24.50px;top:211.20px;width:994.50px;height:14.20px;background:#058f81;"></div>
<div style="position:absolute;left:24.00px;top:1024.60px;width:773.20px;height:26.60px;background:#058f81;"></div>
<div style="position:absolute;left:24.00px;top:1051.20px;width:773.20px;height:17.70px;background:#f0faf1;"></div>
<div style="position:absolute;left:24.00px;top:1068.90px;width:773.20px;height:2.00px;background:#f0faf1;"></div>
<div style="position:absolute;left:24.00px;top:1085.40px;width:773.20px;height:1.00px;background:#f0faf1;"></div>
<div style="position:absolute;left:24.00px;top:1070.90px;width:1.20px;height:14.50px;background:#f0faf1;"></div>
<div style="position:absolute;left:196.00px;top:1070.90px;width:2.10px;height:14.50px;background:#f0faf1;"></div>
<div style="position:absolute;left:245.60px;top:1070.90px;width:2.20px;height:14.50px;background:#f0faf1;"></div>
<div style="position:absolute;left:307.00px;top:1070.90px;width:2.10px;height:14.50px;background:#f0faf1;"></div>
<div style="position:absolute;left:325.60px;top:1070.90px;width:2.20px;height:14.50px;background:#f0faf1;"></div>
<div style="position:absolute;left:387.00px;top:1070.90px;width:2.20px;height:14.50px;background:#f0faf1;"></div>
<div style="position:absolute;left:481.00px;top:1070.90px;width:2.20px;height:14.50px;background:#f0faf1;"></div>
<div style="position:absolute;left:569.30px;top:1070.90px;width:2.20px;height:14.50px;background:#f0faf1;"></div>
<div style="position:absolute;left:657.40px;top:1070.90px;width:2.20px;height:14.50px;background:#f0faf1;"></div>
<div style="position:absolute;left:795.90px;top:1070.90px;width:1.30px;height:14.50px;background:#f0faf1;"></div>
<div style="position:absolute;left:24.00px;top:1086.40px;width:773.20px;height:17.50px;background:#f0faf1;"></div>
<div style="position:absolute;left:24.00px;top:1103.90px;width:773.20px;height:2.00px;background:#f0faf1;"></div>
<div style="position:absolute;left:24.00px;top:1120.40px;width:773.20px;height:1.00px;background:#f0faf1;"></div>
<div style="position:absolute;left:24.00px;top:1105.90px;width:1.20px;height:14.50px;background:#f0faf1;"></div>
<div style="position:absolute;left:196.00px;top:1105.90px;width:2.10px;height:14.50px;background:#f0faf1;"></div>
<div style="position:absolute;left:245.60px;top:1105.90px;width:2.20px;height:14.50px;background:#f0faf1;"></div>
<div style="position:absolute;left:307.00px;top:1105.90px;width:2.10px;height:14.50px;background:#f0faf1;"></div>
<div style="position:absolute;left:325.60px;top:1105.90px;width:2.20px;height:14.50px;background:#f0faf1;"></div>
<div style="position:absolute;left:387.00px;top:1105.90px;width:2.20px;height:14.50px;background:#f0faf1;"></div>
<div style="position:absolute;left:481.00px;top:1105.90px;width:2.20px;height:14.50px;background:#f0faf1;"></div>
<div style="position:absolute;left:569.30px;top:1105.90px;width:2.20px;height:14.50px;background:#f0faf1;"></div>
<div style="position:absolute;left:657.40px;top:1105.90px;width:2.20px;height:14.50px;background:#f0faf1;"></div>
<div style="position:absolute;left:795.90px;top:1105.90px;width:1.30px;height:14.50px;background:#f0faf1;"></div>
<div style="position:absolute;left:24.00px;top:1121.40px;width:773.20px;height:17.40px;background:#f0faf1;"></div>
<div style="position:absolute;left:24.00px;top:1138.80px;width:773.20px;height:2.00px;background:#f0faf1;"></div>
<div style="position:absolute;left:24.00px;top:1154.60px;width:773.20px;height:1.00px;background:#f0faf1;"></div>
<div style="position:absolute;left:24.00px;top:1140.80px;width:1.20px;height:13.80px;background:#f0faf1;"></div>
<div style="position:absolute;left:196.00px;top:1140.80px;width:2.10px;height:13.80px;background:#f0faf1;"></div>
<div style="position:absolute;left:245.60px;top:1140.80px;width:2.20px;height:13.80px;background:#f0faf1;"></div>
<div style="position:absolute;left:307.00px;top:1140.80px;width:2.10px;height:13.80px;background:#f0faf1;"></div>
<div style="position:absolute;left:325.60px;top:1140.80px;width:2.20px;height:13.80px;background:#f0faf1;"></div>
<div style="position:absolute;left:387.00px;top:1140.80px;width:2.20px;height:13.80px;background:#f0faf1;"></div>
<div style="position:absolute;left:481.00px;top:1140.80px;width:2.20px;height:13.80px;background:#f0faf1;"></div>
<div style="position:absolute;left:569.30px;top:1140.80px;width:2.20px;height:13.80px;background:#f0faf1;"></div>
<div style="position:absolute;left:657.40px;top:1140.80px;width:2.20px;height:13.80px;background:#f0faf1;"></div>
<div style="position:absolute;left:795.90px;top:1140.80px;width:1.30px;height:13.80px;background:#f0faf1;"></div>
<div style="position:absolute;left:24.00px;top:1155.60px;width:773.20px;height:18.20px;background:#058f81;"></div>
<svg width="1080" height="1210" viewBox="0 0 1080 1210" style="position:absolute;left:0;top:0;pointer-events:none"><line x1="23.88" y1="165.70" x2="1019.62" y2="165.70" stroke="#0c0c0c" stroke-width="1.25"/><line x1="23.88" y1="180.50" x2="1019.62" y2="180.50" stroke="#0c0c0c" stroke-width="1.25"/><line x1="23.88" y1="197.20" x2="1019.62" y2="197.20" stroke="#0c0c0c" stroke-width="1.25"/><line x1="23.88" y1="211.20" x2="1019.62" y2="211.20" stroke="#0c0c0c" stroke-width="1.25"/><line x1="23.88" y1="225.40" x2="1019.62" y2="225.40" stroke="#0c0c0c" stroke-width="1.25"/><line x1="23.88" y1="240.20" x2="1019.62" y2="240.20" stroke="#0c0c0c" stroke-width="1.25"/><line x1="23.88" y1="254.90" x2="1019.62" y2="254.90" stroke="#0c0c0c" stroke-width="1.25"/><line x1="23.88" y1="269.60" x2="1019.62" y2="269.60" stroke="#0c0c0c" stroke-width="1.25"/><line x1="23.88" y1="286.40" x2="1019.62" y2="286.40" stroke="#0c0c0c" stroke-width="1.25"/><line x1="24.50" y1="165.70" x2="24.50" y2="286.40" stroke="#0c0c0c" stroke-width="1.25"/><line x1="1019.00" y1="165.70" x2="1019.00" y2="286.40" stroke="#0c0c0c" stroke-width="1.25"/><line x1="166.25" y1="180.50" x2="166.25" y2="197.20" stroke="#0c0c0c" stroke-width="1.25"/><line x1="346.50" y1="180.50" x2="346.50" y2="197.20" stroke="#0c0c0c" stroke-width="1.25"/><line x1="526.40" y1="180.50" x2="526.40" y2="197.20" stroke="#0c0c0c" stroke-width="1.25"/><line x1="706.25" y1="180.50" x2="706.25" y2="197.20" stroke="#0c0c0c" stroke-width="1.25"/><line x1="878.20" y1="180.50" x2="878.20" y2="197.20" stroke="#0c0c0c" stroke-width="1.25"/><line x1="51.25" y1="197.20" x2="51.25" y2="211.20" stroke="#0c0c0c" stroke-width="1.25"/><line x1="106.75" y1="197.20" x2="106.75" y2="211.20" stroke="#0c0c0c" stroke-width="1.25"/><line x1="166.25" y1="197.20" x2="166.25" y2="211.20" stroke="#0c0c0c" stroke-width="1.25"/><line x1="197.50" y1="197.20" x2="197.50" y2="211.20" stroke="#0c0c0c" stroke-width="1.25"/><line x1="215.00" y1="197.20" x2="215.00" y2="211.20" stroke="#0c0c0c" stroke-width="1.25"/><line x1="280.60" y1="197.20" x2="280.60" y2="211.20" stroke="#0c0c0c" stroke-width="1.25"/><line x1="346.50" y1="197.20" x2="346.50" y2="211.20" stroke="#0c0c0c" stroke-width="1.25"/><line x1="377.30" y1="197.20" x2="377.30" y2="211.20" stroke="#0c0c0c" stroke-width="1.25"/><line x1="394.90" y1="197.20" x2="394.90" y2="211.20" stroke="#0c0c0c" stroke-width="1.25"/><line x1="460.40" y1="197.20" x2="460.40" y2="211.20" stroke="#0c0c0c" stroke-width="1.25"/><line x1="526.40" y1="197.20" x2="526.40" y2="211.20" stroke="#0c0c0c" stroke-width="1.25"/><line x1="557.20" y1="197.20" x2="557.20" y2="211.20" stroke="#0c0c0c" stroke-width="1.25"/><line x1="574.60" y1="197.20" x2="574.60" y2="211.20" stroke="#0c0c0c" stroke-width="1.25"/><line x1="640.40" y1="197.20" x2="640.40" y2="211.20" stroke="#0c0c0c" stroke-width="1.25"/><line x1="706.25" y1="197.20" x2="706.25" y2="211.20" stroke="#0c0c0c" stroke-width="1.25"/><line x1="737.00" y1="197.20" x2="737.00" y2="211.20" stroke="#0c0c0c" stroke-width="1.25"/><line x1="754.40" y1="197.20" x2="754.40" y2="211.20" stroke="#0c0c0c" stroke-width="1.25"/><line x1="820.20" y1="197.20" x2="820.20" y2="211.20" stroke="#0c0c0c" stroke-width="1.25"/><line x1="878.20" y1="197.20" x2="878.20" y2="211.20" stroke="#0c0c0c" stroke-width="1.25"/><line x1="895.20" y1="197.20" x2="895.20" y2="211.20" stroke="#0c0c0c" stroke-width="1.25"/><line x1="961.30" y1="197.20" x2="961.30" y2="211.20" stroke="#0c0c0c" stroke-width="1.25"/><line x1="215.00" y1="211.20" x2="215.00" y2="254.90" stroke="#0c0c0c" stroke-width="1.25"/><line x1="280.60" y1="211.20" x2="280.60" y2="254.90" stroke="#0c0c0c" stroke-width="1.25"/><line x1="346.50" y1="211.20" x2="346.50" y2="254.90" stroke="#0c0c0c" stroke-width="1.25"/><line x1="377.30" y1="211.20" x2="377.30" y2="254.90" stroke="#0c0c0c" stroke-width="1.25"/><line x1="394.90" y1="211.20" x2="394.90" y2="254.90" stroke="#0c0c0c" stroke-width="1.25"/><line x1="460.40" y1="211.20" x2="460.40" y2="254.90" stroke="#0c0c0c" stroke-width="1.25"/><line x1="526.40" y1="211.20" x2="526.40" y2="254.90" stroke="#0c0c0c" stroke-width="1.25"/><line x1="557.20" y1="211.20" x2="557.20" y2="254.90" stroke="#0c0c0c" stroke-width="1.25"/><line x1="574.60" y1="211.20" x2="574.60" y2="254.90" stroke="#0c0c0c" stroke-width="1.25"/><line x1="640.40" y1="211.20" x2="640.40" y2="254.90" stroke="#0c0c0c" stroke-width="1.25"/><line x1="706.25" y1="211.20" x2="706.25" y2="254.90" stroke="#0c0c0c" stroke-width="1.25"/><line x1="737.00" y1="211.20" x2="737.00" y2="254.90" stroke="#0c0c0c" stroke-width="1.25"/><line x1="754.40" y1="211.20" x2="754.40" y2="254.90" stroke="#0c0c0c" stroke-width="1.25"/><line x1="820.20" y1="211.20" x2="820.20" y2="254.90" stroke="#0c0c0c" stroke-width="1.25"/><line x1="878.20" y1="211.20" x2="878.20" y2="254.90" stroke="#0c0c0c" stroke-width="1.25"/><line x1="895.20" y1="211.20" x2="895.20" y2="254.90" stroke="#0c0c0c" stroke-width="1.25"/><line x1="961.30" y1="211.20" x2="961.30" y2="254.90" stroke="#0c0c0c" stroke-width="1.25"/><line x1="51.25" y1="254.90" x2="51.25" y2="269.60" stroke="#0c0c0c" stroke-width="1.25"/><line x1="106.75" y1="254.90" x2="106.75" y2="269.60" stroke="#0c0c0c" stroke-width="1.25"/><line x1="166.25" y1="254.90" x2="166.25" y2="269.60" stroke="#0c0c0c" stroke-width="1.25"/><line x1="197.50" y1="254.90" x2="197.50" y2="269.60" stroke="#0c0c0c" stroke-width="1.25"/><line x1="215.00" y1="254.90" x2="215.00" y2="269.60" stroke="#0c0c0c" stroke-width="1.25"/><line x1="280.60" y1="254.90" x2="280.60" y2="269.60" stroke="#0c0c0c" stroke-width="1.25"/><line x1="346.50" y1="254.90" x2="346.50" y2="269.60" stroke="#0c0c0c" stroke-width="1.25"/><line x1="377.30" y1="254.90" x2="377.30" y2="269.60" stroke="#0c0c0c" stroke-width="1.25"/><line x1="394.90" y1="254.90" x2="394.90" y2="269.60" stroke="#0c0c0c" stroke-width="1.25"/><line x1="460.40" y1="254.90" x2="460.40" y2="269.60" stroke="#0c0c0c" stroke-width="1.25"/><line x1="526.40" y1="254.90" x2="526.40" y2="269.60" stroke="#0c0c0c" stroke-width="1.25"/><line x1="557.20" y1="254.90" x2="557.20" y2="269.60" stroke="#0c0c0c" stroke-width="1.25"/><line x1="574.60" y1="254.90" x2="574.60" y2="269.60" stroke="#0c0c0c" stroke-width="1.25"/><line x1="640.40" y1="254.90" x2="640.40" y2="269.60" stroke="#0c0c0c" stroke-width="1.25"/><line x1="706.25" y1="254.90" x2="706.25" y2="269.60" stroke="#0c0c0c" stroke-width="1.25"/><line x1="737.00" y1="254.90" x2="737.00" y2="269.60" stroke="#0c0c0c" stroke-width="1.25"/><line x1="754.40" y1="254.90" x2="754.40" y2="269.60" stroke="#0c0c0c" stroke-width="1.25"/><line x1="820.20" y1="254.90" x2="820.20" y2="269.60" stroke="#0c0c0c" stroke-width="1.25"/><line x1="878.20" y1="254.90" x2="878.20" y2="269.60" stroke="#0c0c0c" stroke-width="1.25"/><line x1="895.20" y1="254.90" x2="895.20" y2="269.60" stroke="#0c0c0c" stroke-width="1.25"/><line x1="961.30" y1="254.90" x2="961.30" y2="269.60" stroke="#0c0c0c" stroke-width="1.25"/><line x1="64.50" y1="254.90" x2="64.50" y2="269.60" stroke="#0c0c0c" stroke-width="1.25"/><line x1="215.00" y1="269.60" x2="215.00" y2="286.40" stroke="#0c0c0c" stroke-width="1.25"/><line x1="280.60" y1="269.60" x2="280.60" y2="286.40" stroke="#0c0c0c" stroke-width="1.25"/><line x1="346.50" y1="269.60" x2="346.50" y2="286.40" stroke="#0c0c0c" stroke-width="1.25"/><line x1="377.30" y1="269.60" x2="377.30" y2="286.40" stroke="#0c0c0c" stroke-width="1.25"/><line x1="394.90" y1="269.60" x2="394.90" y2="286.40" stroke="#0c0c0c" stroke-width="1.25"/><line x1="460.40" y1="269.60" x2="460.40" y2="286.40" stroke="#0c0c0c" stroke-width="1.25"/><line x1="526.40" y1="269.60" x2="526.40" y2="286.40" stroke="#0c0c0c" stroke-width="1.25"/><line x1="557.20" y1="269.60" x2="557.20" y2="286.40" stroke="#0c0c0c" stroke-width="1.25"/><line x1="574.60" y1="269.60" x2="574.60" y2="286.40" stroke="#0c0c0c" stroke-width="1.25"/><line x1="640.40" y1="269.60" x2="640.40" y2="286.40" stroke="#0c0c0c" stroke-width="1.25"/><line x1="706.25" y1="269.60" x2="706.25" y2="286.40" stroke="#0c0c0c" stroke-width="1.25"/><line x1="737.00" y1="269.60" x2="737.00" y2="286.40" stroke="#0c0c0c" stroke-width="1.25"/><line x1="754.40" y1="269.60" x2="754.40" y2="286.40" stroke="#0c0c0c" stroke-width="1.25"/><line x1="820.20" y1="269.60" x2="820.20" y2="286.40" stroke="#0c0c0c" stroke-width="1.25"/><line x1="878.20" y1="269.60" x2="878.20" y2="286.40" stroke="#0c0c0c" stroke-width="1.25"/><line x1="895.20" y1="269.60" x2="895.20" y2="286.40" stroke="#0c0c0c" stroke-width="1.25"/><line x1="961.30" y1="269.60" x2="961.30" y2="286.40" stroke="#0c0c0c" stroke-width="1.25"/><line x1="23.88" y1="54.30" x2="796.92" y2="54.30" stroke="#0c0c0c" stroke-width="1.25"/><line x1="23.88" y1="69.10" x2="796.92" y2="69.10" stroke="#0c0c0c" stroke-width="1.25"/><line x1="23.88" y1="92.00" x2="796.92" y2="92.00" stroke="#0c0c0c" stroke-width="1.25"/><line x1="23.88" y1="105.50" x2="796.92" y2="105.50" stroke="#0c0c0c" stroke-width="1.25"/><line x1="24.50" y1="54.30" x2="24.50" y2="105.50" stroke="#0c0c0c" stroke-width="1.25"/><line x1="796.30" y1="54.30" x2="796.30" y2="105.50" stroke="#0c0c0c" stroke-width="1.25"/><line x1="96.25" y1="69.10" x2="96.25" y2="105.50" stroke="#0c0c0c" stroke-width="1.25"/><line x1="113.75" y1="69.10" x2="113.75" y2="105.50" stroke="#0c0c0c" stroke-width="1.25"/><line x1="241.75" y1="69.10" x2="241.75" y2="105.50" stroke="#0c0c0c" stroke-width="1.25"/><line x1="378.75" y1="69.10" x2="378.75" y2="105.50" stroke="#0c0c0c" stroke-width="1.25"/><line x1="466.50" y1="69.10" x2="466.50" y2="105.50" stroke="#0c0c0c" stroke-width="1.25"/><line x1="560.50" y1="69.10" x2="560.50" y2="105.50" stroke="#0c0c0c" stroke-width="1.25"/><line x1="669.00" y1="69.10" x2="669.00" y2="105.50" stroke="#0c0c0c" stroke-width="1.25"/><line x1="713.00" y1="69.10" x2="713.00" y2="105.50" stroke="#0c0c0c" stroke-width="1.25"/><line x1="23.88" y1="107.60" x2="796.92" y2="107.60" stroke="#0c0c0c" stroke-width="1.25"/><line x1="23.88" y1="122.00" x2="796.92" y2="122.00" stroke="#0c0c0c" stroke-width="1.25"/><line x1="23.88" y1="135.75" x2="796.92" y2="135.75" stroke="#0c0c0c" stroke-width="1.25"/><line x1="23.88" y1="150.00" x2="796.92" y2="150.00" stroke="#0c0c0c" stroke-width="1.25"/><line x1="23.88" y1="163.75" x2="796.92" y2="163.75" stroke="#0c0c0c" stroke-width="1.25"/><line x1="24.50" y1="107.60" x2="24.50" y2="163.75" stroke="#0c0c0c" stroke-width="1.25"/><line x1="796.30" y1="107.60" x2="796.30" y2="163.75" stroke="#0c0c0c" stroke-width="1.25"/><line x1="112.50" y1="122.00" x2="112.50" y2="135.75" stroke="#0c0c0c" stroke-width="1.25"/><line x1="271.25" y1="122.00" x2="271.25" y2="135.75" stroke="#0c0c0c" stroke-width="1.25"/><line x1="330.00" y1="122.00" x2="330.00" y2="135.75" stroke="#0c0c0c" stroke-width="1.25"/><line x1="469.25" y1="122.00" x2="469.25" y2="135.75" stroke="#0c0c0c" stroke-width="1.25"/><line x1="67.50" y1="135.75" x2="67.50" y2="163.75" stroke="#0c0c0c" stroke-width="1.25"/><line x1="112.50" y1="135.75" x2="112.50" y2="163.75" stroke="#0c0c0c" stroke-width="1.25"/><line x1="192.50" y1="135.75" x2="192.50" y2="163.75" stroke="#0c0c0c" stroke-width="1.25"/><line x1="271.25" y1="135.75" x2="271.25" y2="163.75" stroke="#0c0c0c" stroke-width="1.25"/><line x1="330.00" y1="135.75" x2="330.00" y2="163.75" stroke="#0c0c0c" stroke-width="1.25"/><line x1="396.75" y1="135.75" x2="396.75" y2="163.75" stroke="#0c0c0c" stroke-width="1.25"/><line x1="469.25" y1="135.75" x2="469.25" y2="163.75" stroke="#0c0c0c" stroke-width="1.25"/><line x1="616.25" y1="135.75" x2="616.25" y2="163.75" stroke="#0c0c0c" stroke-width="1.25"/><line x1="675.50" y1="135.75" x2="675.50" y2="163.75" stroke="#0c0c0c" stroke-width="1.25"/><line x1="23.88" y1="893.60" x2="796.92" y2="893.60" stroke="#0c0c0c" stroke-width="1.25"/><line x1="23.88" y1="908.40" x2="796.92" y2="908.40" stroke="#0c0c0c" stroke-width="1.25"/><line x1="23.88" y1="931.30" x2="796.92" y2="931.30" stroke="#0c0c0c" stroke-width="1.25"/><line x1="23.88" y1="944.80" x2="796.92" y2="944.80" stroke="#0c0c0c" stroke-width="1.25"/><line x1="24.50" y1="893.60" x2="24.50" y2="944.80" stroke="#0c0c0c" stroke-width="1.25"/><line x1="796.30" y1="893.60" x2="796.30" y2="944.80" stroke="#0c0c0c" stroke-width="1.25"/><line x1="96.25" y1="908.40" x2="96.25" y2="944.80" stroke="#0c0c0c" stroke-width="1.25"/><line x1="113.75" y1="908.40" x2="113.75" y2="944.80" stroke="#0c0c0c" stroke-width="1.25"/><line x1="241.75" y1="908.40" x2="241.75" y2="944.80" stroke="#0c0c0c" stroke-width="1.25"/><line x1="378.75" y1="908.40" x2="378.75" y2="944.80" stroke="#0c0c0c" stroke-width="1.25"/><line x1="466.50" y1="908.40" x2="466.50" y2="944.80" stroke="#0c0c0c" stroke-width="1.25"/><line x1="560.50" y1="908.40" x2="560.50" y2="944.80" stroke="#0c0c0c" stroke-width="1.25"/><line x1="669.00" y1="908.40" x2="669.00" y2="944.80" stroke="#0c0c0c" stroke-width="1.25"/><line x1="713.00" y1="908.40" x2="713.00" y2="944.80" stroke="#0c0c0c" stroke-width="1.25"/><line x1="23.88" y1="946.90" x2="796.92" y2="946.90" stroke="#0c0c0c" stroke-width="1.25"/><line x1="23.88" y1="961.30" x2="796.92" y2="961.30" stroke="#0c0c0c" stroke-width="1.25"/><line x1="23.88" y1="975.05" x2="796.92" y2="975.05" stroke="#0c0c0c" stroke-width="1.25"/><line x1="23.88" y1="989.30" x2="796.92" y2="989.30" stroke="#0c0c0c" stroke-width="1.25"/><line x1="23.88" y1="1003.05" x2="796.92" y2="1003.05" stroke="#0c0c0c" stroke-width="1.25"/><line x1="24.50" y1="946.90" x2="24.50" y2="1003.05" stroke="#0c0c0c" stroke-width="1.25"/><line x1="796.30" y1="946.90" x2="796.30" y2="1003.05" stroke="#0c0c0c" stroke-width="1.25"/><line x1="112.50" y1="961.30" x2="112.50" y2="975.05" stroke="#0c0c0c" stroke-width="1.25"/><line x1="271.25" y1="961.30" x2="271.25" y2="975.05" stroke="#0c0c0c" stroke-width="1.25"/><line x1="330.00" y1="961.30" x2="330.00" y2="975.05" stroke="#0c0c0c" stroke-width="1.25"/><line x1="469.25" y1="961.30" x2="469.25" y2="975.05" stroke="#0c0c0c" stroke-width="1.25"/><line x1="67.50" y1="975.05" x2="67.50" y2="1003.05" stroke="#0c0c0c" stroke-width="1.25"/><line x1="112.50" y1="975.05" x2="112.50" y2="1003.05" stroke="#0c0c0c" stroke-width="1.25"/><line x1="192.50" y1="975.05" x2="192.50" y2="1003.05" stroke="#0c0c0c" stroke-width="1.25"/><line x1="271.25" y1="975.05" x2="271.25" y2="1003.05" stroke="#0c0c0c" stroke-width="1.25"/><line x1="330.00" y1="975.05" x2="330.00" y2="1003.05" stroke="#0c0c0c" stroke-width="1.25"/><line x1="396.75" y1="975.05" x2="396.75" y2="1003.05" stroke="#0c0c0c" stroke-width="1.25"/><line x1="469.25" y1="975.05" x2="469.25" y2="1003.05" stroke="#0c0c0c" stroke-width="1.25"/><line x1="616.25" y1="975.05" x2="616.25" y2="1003.05" stroke="#0c0c0c" stroke-width="1.25"/><line x1="675.50" y1="975.05" x2="675.50" y2="1003.05" stroke="#0c0c0c" stroke-width="1.25"/><line x1="23.65" y1="1007.30" x2="797.65" y2="1007.30" stroke="#0c0c0c" stroke-width="1.5"/><line x1="23.65" y1="1023.90" x2="797.65" y2="1023.90" stroke="#0c0c0c" stroke-width="1.5"/><line x1="24.70" y1="1007.30" x2="24.70" y2="1023.90" stroke="#0c0c0c" stroke-width="1.5"/><line x1="796.60" y1="1007.30" x2="796.60" y2="1023.90" stroke="#0c0c0c" stroke-width="1.5"/></svg>
<div id="tx">
<div class="t" style="left:72.30px;top:18.00px;justify-content:flex-start"><span style="font-size:15.2px;font-weight:400;color:#44a892;transform:scaleX(0.9389);transform-origin:left center;">aportes</span></div>
<div class="t" style="left:72.30px;top:32.00px;justify-content:flex-start"><span style="font-size:15.2px;font-weight:400;color:#44a892;transform:scaleX(0.8911);transform-origin:left center;">en línea</span></div>
<div class="t" style="left:298.10px;top:21.00px;justify-content:flex-start"><span style="font-size:15.6px;font-weight:700;color:#14897a;-webkit-text-stroke:0.3px #14897a;">Resumen General de Pago</span></div>
<div class="t" style="left:72.30px;top:860.00px;justify-content:flex-start"><span style="font-size:15.2px;font-weight:400;color:#44a892;transform:scaleX(0.9389);transform-origin:left center;">aportes</span></div>
<div class="t" style="left:72.30px;top:874.00px;justify-content:flex-start"><span style="font-size:15.2px;font-weight:400;color:#44a892;transform:scaleX(0.8911);transform-origin:left center;">en línea</span></div>
<div class="t" style="left:298.10px;top:863.00px;justify-content:flex-start"><span style="font-size:15.6px;font-weight:700;color:#14897a;-webkit-text-stroke:0.3px #14897a;">Resumen General de Pago</span></div>
<div class="t" style="left:27.30px;top:169.00px;justify-content:flex-start"><span style="font-size:8.77px;font-weight:700;color:#1c1c1c;transform:scaleX(0.9497);transform-origin:left center;-webkit-text-stroke:0.3px #1c1c1c;">LIQUIDACION DETALLADA DE APORTES</span></div>
<div class="t" style="left:95.38px;top:184.00px;justify-content:center"><span style="font-size:9.95px;font-weight:700;color:#1c1c1c;transform:scaleX(0.8282);transform-origin:center center;-webkit-text-stroke:0.3px #1c1c1c;">EMPLEADO</span></div>
<div class="t" style="left:256.38px;top:184.00px;justify-content:center"><span style="font-size:9.95px;font-weight:700;color:#1c1c1c;transform:scaleX(0.8195);transform-origin:center center;-webkit-text-stroke:0.3px #1c1c1c;">PENSION</span></div>
<div class="t" style="left:436.45px;top:184.00px;justify-content:center"><span style="font-size:9.95px;font-weight:700;color:#1c1c1c;transform:scaleX(0.8257);transform-origin:center center;-webkit-text-stroke:0.3px #1c1c1c;">SALUD</span></div>
<div class="t" style="left:616.33px;top:184.00px;justify-content:center"><span style="font-size:9.95px;font-weight:700;color:#1c1c1c;transform:scaleX(0.7922);transform-origin:center center;-webkit-text-stroke:0.3px #1c1c1c;">CCF</span></div>
<div class="t" style="left:792.23px;top:184.00px;justify-content:center"><span style="font-size:9.95px;font-weight:700;color:#1c1c1c;transform:scaleX(0.7830);transform-origin:center center;-webkit-text-stroke:0.3px #1c1c1c;">RIESGOS</span></div>
<div class="t" style="left:948.60px;top:184.00px;justify-content:center"><span style="font-size:9.95px;font-weight:700;color:#1c1c1c;transform:scaleX(0.8257);transform-origin:center center;-webkit-text-stroke:0.3px #1c1c1c;">PARAFISCALES</span></div>
<div class="t" style="left:37.88px;top:201.00px;justify-content:center"><span style="font-size:7.92px;font-weight:400;color:#222;transform:scaleX(0.8925);transform-origin:center center;-webkit-text-stroke:0.25px #222;">No.</span></div>
<div class="t" style="left:79.00px;top:201.00px;justify-content:center"><span style="font-size:7.92px;font-weight:400;color:#222;transform:scaleX(0.9886);transform-origin:center center;-webkit-text-stroke:0.25px #222;">Identificación</span></div>
<div class="t" style="left:136.50px;top:201.00px;justify-content:center"><span style="font-size:7.92px;font-weight:400;color:#222;transform:scaleX(0.9119);transform-origin:center center;-webkit-text-stroke:0.25px #222;">Nombres</span></div>
<div class="t" style="left:181.88px;top:201.00px;justify-content:center"><span style="font-size:7.92px;font-weight:400;color:#222;transform:scaleX(0.8845);transform-origin:center center;-webkit-text-stroke:0.25px #222;">Codigo</span></div>
<div class="t" style="left:206.25px;top:201.00px;justify-content:center"><span style="font-size:7.92px;font-weight:400;color:#222;transform:scaleX(0.7889);transform-origin:center center;-webkit-text-stroke:0.25px #222;">Dias</span></div>
<div class="t" style="left:247.80px;top:201.00px;justify-content:center"><span style="font-size:7.92px;font-weight:400;color:#222;transform:scaleX(0.7271);transform-origin:center center;-webkit-text-stroke:0.25px #222;">IBC</span></div>
<div class="t" style="left:313.55px;top:201.00px;justify-content:center"><span style="font-size:7.92px;font-weight:400;color:#222;transform:scaleX(0.9085);transform-origin:center center;-webkit-text-stroke:0.25px #222;">Aporte</span></div>
<div class="t" style="left:361.90px;top:201.00px;justify-content:center"><span style="font-size:7.92px;font-weight:400;color:#222;transform:scaleX(0.8845);transform-origin:center center;-webkit-text-stroke:0.25px #222;">Codigo</span></div>
<div class="t" style="left:386.10px;top:201.00px;justify-content:center"><span style="font-size:7.92px;font-weight:400;color:#222;transform:scaleX(0.7889);transform-origin:center center;-webkit-text-stroke:0.25px #222;">Dias</span></div>
<div class="t" style="left:427.65px;top:201.00px;justify-content:center"><span style="font-size:7.92px;font-weight:400;color:#222;transform:scaleX(0.7271);transform-origin:center center;-webkit-text-stroke:0.25px #222;">IBC</span></div>
<div class="t" style="left:493.40px;top:201.00px;justify-content:center"><span style="font-size:7.92px;font-weight:400;color:#222;transform:scaleX(0.9085);transform-origin:center center;-webkit-text-stroke:0.25px #222;">Aporte</span></div>
<div class="t" style="left:541.80px;top:201.00px;justify-content:center"><span style="font-size:7.92px;font-weight:400;color:#222;transform:scaleX(0.8845);transform-origin:center center;-webkit-text-stroke:0.25px #222;">Codigo</span></div>
<div class="t" style="left:565.90px;top:201.00px;justify-content:center"><span style="font-size:7.92px;font-weight:400;color:#222;transform:scaleX(0.7889);transform-origin:center center;-webkit-text-stroke:0.25px #222;">Dias</span></div>
<div class="t" style="left:607.50px;top:201.00px;justify-content:center"><span style="font-size:7.92px;font-weight:400;color:#222;transform:scaleX(0.7271);transform-origin:center center;-webkit-text-stroke:0.25px #222;">IBC</span></div>
<div class="t" style="left:673.33px;top:201.00px;justify-content:center"><span style="font-size:7.92px;font-weight:400;color:#222;transform:scaleX(0.9085);transform-origin:center center;-webkit-text-stroke:0.25px #222;">Aporte</span></div>
<div class="t" style="left:721.62px;top:201.00px;justify-content:center"><span style="font-size:7.92px;font-weight:400;color:#222;transform:scaleX(0.8845);transform-origin:center center;-webkit-text-stroke:0.25px #222;">Codigo</span></div>
<div class="t" style="left:745.70px;top:201.00px;justify-content:center"><span style="font-size:7.92px;font-weight:400;color:#222;transform:scaleX(0.7889);transform-origin:center center;-webkit-text-stroke:0.25px #222;">Dias</span></div>
<div class="t" style="left:787.30px;top:201.00px;justify-content:center"><span style="font-size:7.92px;font-weight:400;color:#222;transform:scaleX(0.7271);transform-origin:center center;-webkit-text-stroke:0.25px #222;">IBC</span></div>
<div class="t" style="left:849.20px;top:201.00px;justify-content:center"><span style="font-size:7.92px;font-weight:400;color:#222;transform:scaleX(0.9085);transform-origin:center center;-webkit-text-stroke:0.25px #222;">Aporte</span></div>
<div class="t" style="left:886.70px;top:201.00px;justify-content:center"><span style="font-size:7.92px;font-weight:400;color:#222;transform:scaleX(0.7889);transform-origin:center center;-webkit-text-stroke:0.25px #222;">Dias</span></div>
<div class="t" style="left:928.25px;top:201.00px;justify-content:center"><span style="font-size:7.92px;font-weight:400;color:#222;transform:scaleX(0.7271);transform-origin:center center;-webkit-text-stroke:0.25px #222;">IBC</span></div>
<div class="t" style="left:990.15px;top:201.00px;justify-content:center"><span style="font-size:7.92px;font-weight:400;color:#222;transform:scaleX(0.9085);transform-origin:center center;-webkit-text-stroke:0.25px #222;">Aporte</span></div>
<div class="t" style="left:27.30px;top:214.00px;justify-content:flex-start"><span style="font-size:7.7px;font-weight:700;color:#e9fffb;transform:scaleX(0.9392);transform-origin:left center;-webkit-text-stroke:0.3px #e9fffb;">Sucursal: PRINCIPAL (1 Afiliados)</span></div>
<div class="t" style="left:278.00px;top:214.00px;justify-content:flex-end"><span style="font-size:7.81px;font-weight:700;color:#e9fffb;transform:scaleX(0.9389);transform-origin:right center;-webkit-text-stroke:0.3px #e9fffb;">$1,300,000</span></div>
<div class="t" style="left:343.90px;top:214.00px;justify-content:flex-end"><span style="font-size:7.81px;font-weight:700;color:#e9fffb;transform:scaleX(0.9087);transform-origin:right center;-webkit-text-stroke:0.3px #e9fffb;">$208,000</span></div>
<div class="t" style="left:457.80px;top:214.00px;justify-content:flex-end"><span style="font-size:7.81px;font-weight:700;color:#e9fffb;transform:scaleX(0.9389);transform-origin:right center;-webkit-text-stroke:0.3px #e9fffb;">$1,300,000</span></div>
<div class="t" style="left:523.80px;top:214.00px;justify-content:flex-end"><span style="font-size:7.81px;font-weight:700;color:#e9fffb;transform:scaleX(0.9087);transform-origin:right center;-webkit-text-stroke:0.3px #e9fffb;">$162,500</span></div>
<div class="t" style="left:637.80px;top:214.00px;justify-content:flex-end"><span style="font-size:7.81px;font-weight:700;color:#e9fffb;transform:scaleX(0.9094);transform-origin:right center;-webkit-text-stroke:0.3px #e9fffb;">$0</span></div>
<div class="t" style="left:703.65px;top:214.00px;justify-content:flex-end"><span style="font-size:7.81px;font-weight:700;color:#e9fffb;transform:scaleX(0.9094);transform-origin:right center;-webkit-text-stroke:0.3px #e9fffb;">$0</span></div>
<div class="t" style="left:817.60px;top:214.00px;justify-content:flex-end"><span style="font-size:7.81px;font-weight:700;color:#e9fffb;transform:scaleX(0.9389);transform-origin:right center;-webkit-text-stroke:0.3px #e9fffb;">$1,300,000</span></div>
<div class="t" style="left:875.60px;top:214.00px;justify-content:flex-end"><span style="font-size:7.81px;font-weight:700;color:#e9fffb;transform:scaleX(0.9068);transform-origin:right center;-webkit-text-stroke:0.3px #e9fffb;">$56,600</span></div>
<div class="t" style="left:958.70px;top:214.00px;justify-content:flex-end"><span style="font-size:7.81px;font-weight:700;color:#e9fffb;transform:scaleX(0.9094);transform-origin:right center;-webkit-text-stroke:0.3px #e9fffb;">$0</span></div>
<div class="t" style="left:1016.40px;top:214.00px;justify-content:flex-end"><span style="font-size:7.81px;font-weight:700;color:#e9fffb;transform:scaleX(0.9094);transform-origin:right center;-webkit-text-stroke:0.3px #e9fffb;">$0</span></div>
<div class="t" style="left:27.30px;top:228.00px;justify-content:flex-start"><span style="font-size:7.7px;font-weight:700;color:#1c1c1c;transform:scaleX(0.9477);transform-origin:left center;-webkit-text-stroke:0.3px #1c1c1c;">Centro de Trabajo: PRINCIPAL ( 1 Afiliados)</span></div>
<div class="t" style="left:278.00px;top:229.00px;justify-content:flex-end"><span style="font-size:7.81px;font-weight:700;color:#1c1c1c;transform:scaleX(0.9389);transform-origin:right center;-webkit-text-stroke:0.3px #1c1c1c;">$1,300,000</span></div>
<div class="t" style="left:343.90px;top:229.00px;justify-content:flex-end"><span style="font-size:7.81px;font-weight:700;color:#1c1c1c;transform:scaleX(0.9087);transform-origin:right center;-webkit-text-stroke:0.3px #1c1c1c;">$208,000</span></div>
<div class="t" style="left:457.80px;top:229.00px;justify-content:flex-end"><span style="font-size:7.81px;font-weight:700;color:#1c1c1c;transform:scaleX(0.9389);transform-origin:right center;-webkit-text-stroke:0.3px #1c1c1c;">$1,300,000</span></div>
<div class="t" style="left:523.80px;top:229.00px;justify-content:flex-end"><span style="font-size:7.81px;font-weight:700;color:#1c1c1c;transform:scaleX(0.9087);transform-origin:right center;-webkit-text-stroke:0.3px #1c1c1c;">$162,500</span></div>
<div class="t" style="left:637.80px;top:229.00px;justify-content:flex-end"><span style="font-size:7.81px;font-weight:700;color:#1c1c1c;transform:scaleX(0.9094);transform-origin:right center;-webkit-text-stroke:0.3px #1c1c1c;">$0</span></div>
<div class="t" style="left:703.65px;top:229.00px;justify-content:flex-end"><span style="font-size:7.81px;font-weight:700;color:#1c1c1c;transform:scaleX(0.9094);transform-origin:right center;-webkit-text-stroke:0.3px #1c1c1c;">$0</span></div>
<div class="t" style="left:817.60px;top:229.00px;justify-content:flex-end"><span style="font-size:7.81px;font-weight:700;color:#1c1c1c;transform:scaleX(0.9389);transform-origin:right center;-webkit-text-stroke:0.3px #1c1c1c;">$1,300,000</span></div>
<div class="t" style="left:875.60px;top:229.00px;justify-content:flex-end"><span style="font-size:7.81px;font-weight:700;color:#1c1c1c;transform:scaleX(0.9068);transform-origin:right center;-webkit-text-stroke:0.3px #1c1c1c;">$56,600</span></div>
<div class="t" style="left:958.70px;top:229.00px;justify-content:flex-end"><span style="font-size:7.81px;font-weight:700;color:#1c1c1c;transform:scaleX(0.9094);transform-origin:right center;-webkit-text-stroke:0.3px #1c1c1c;">$0</span></div>
<div class="t" style="left:1016.40px;top:229.00px;justify-content:flex-end"><span style="font-size:7.81px;font-weight:700;color:#1c1c1c;transform:scaleX(0.9094);transform-origin:right center;-webkit-text-stroke:0.3px #1c1c1c;">$0</span></div>
<div class="t" style="left:27.30px;top:243.00px;justify-content:flex-start"><span style="font-size:7.28px;font-weight:400;color:#333;transform:scaleX(0.9346);transform-origin:left center;-webkit-text-stroke:0.25px #333;">Ciudad: NEIVA Depto: HUILA ( 1 Afiliados)</span></div>
<div class="t" style="left:278.00px;top:244.00px;justify-content:flex-end"><span style="font-size:7.81px;font-weight:700;color:#1c1c1c;transform:scaleX(0.9389);transform-origin:right center;-webkit-text-stroke:0.3px #1c1c1c;">$1,300,000</span></div>
<div class="t" style="left:343.90px;top:244.00px;justify-content:flex-end"><span style="font-size:7.81px;font-weight:700;color:#1c1c1c;transform:scaleX(0.9087);transform-origin:right center;-webkit-text-stroke:0.3px #1c1c1c;">$208,000</span></div>
<div class="t" style="left:457.80px;top:244.00px;justify-content:flex-end"><span style="font-size:7.81px;font-weight:700;color:#1c1c1c;transform:scaleX(0.9389);transform-origin:right center;-webkit-text-stroke:0.3px #1c1c1c;">$1,300,000</span></div>
<div class="t" style="left:523.80px;top:244.00px;justify-content:flex-end"><span style="font-size:7.81px;font-weight:700;color:#1c1c1c;transform:scaleX(0.9087);transform-origin:right center;-webkit-text-stroke:0.3px #1c1c1c;">$162,500</span></div>
<div class="t" style="left:637.80px;top:244.00px;justify-content:flex-end"><span style="font-size:7.81px;font-weight:700;color:#1c1c1c;transform:scaleX(0.9094);transform-origin:right center;-webkit-text-stroke:0.3px #1c1c1c;">$0</span></div>
<div class="t" style="left:703.65px;top:244.00px;justify-content:flex-end"><span style="font-size:7.81px;font-weight:700;color:#1c1c1c;transform:scaleX(0.9094);transform-origin:right center;-webkit-text-stroke:0.3px #1c1c1c;">$0</span></div>
<div class="t" style="left:817.60px;top:244.00px;justify-content:flex-end"><span style="font-size:7.81px;font-weight:700;color:#1c1c1c;transform:scaleX(0.9389);transform-origin:right center;-webkit-text-stroke:0.3px #1c1c1c;">$1,300,000</span></div>
<div class="t" style="left:875.60px;top:244.00px;justify-content:flex-end"><span style="font-size:7.81px;font-weight:700;color:#1c1c1c;transform:scaleX(0.9068);transform-origin:right center;-webkit-text-stroke:0.3px #1c1c1c;">$56,600</span></div>
<div class="t" style="left:958.70px;top:244.00px;justify-content:flex-end"><span style="font-size:7.81px;font-weight:700;color:#1c1c1c;transform:scaleX(0.9094);transform-origin:right center;-webkit-text-stroke:0.3px #1c1c1c;">$0</span></div>
<div class="t" style="left:1016.40px;top:244.00px;justify-content:flex-end"><span style="font-size:7.81px;font-weight:700;color:#1c1c1c;transform:scaleX(0.9094);transform-origin:right center;-webkit-text-stroke:0.3px #1c1c1c;">$0</span></div>
<div class="t" style="left:37.80px;top:259.00px;justify-content:center"><span style="font-size:6.1px;font-weight:400;color:#333;transform:scaleX(0.9346);transform-origin:center center;-webkit-text-stroke:0.25px #333;">1</span></div>
<div class="t" style="left:52.50px;top:259.00px;justify-content:flex-start"><span style="font-size:6.1px;font-weight:400;color:#333;transform:scaleX(0.8512);transform-origin:left center;-webkit-text-stroke:0.25px #333;">CC</span></div>
<div class="t" style="left:65.80px;top:259.00px;justify-content:flex-start"><span style="font-size:6.1px;font-weight:400;color:#333;transform:scaleX(0.8927);transform-origin:left center;-webkit-text-stroke:0.25px #333;">7723761</span></div>
<div class="t" style="left:107.80px;top:259.00px;justify-content:flex-start"><span style="font-size:6.1px;font-weight:400;color:#333;transform:scaleX(0.8713);transform-origin:left center;-webkit-text-stroke:0.25px #333;">RODRIGUEZ DAIRO</span></div>
<div class="t" style="left:167.00px;top:259.00px;justify-content:flex-start"><span style="font-size:6.1px;font-weight:400;color:#333;transform:scaleX(0.9236);transform-origin:left center;-webkit-text-stroke:0.25px #333;">230301</span></div>
<div class="t" style="left:206.20px;top:259.00px;justify-content:center"><span style="font-size:6.1px;font-weight:400;color:#333;transform:scaleX(0.9346);transform-origin:center center;-webkit-text-stroke:0.25px #333;">30</span></div>
<div class="t" style="left:375.80px;top:259.00px;justify-content:flex-end"><span style="font-size:6.1px;font-weight:400;color:#333;transform:scaleX(0.8175);transform-origin:right center;-webkit-text-stroke:0.25px #333;">EPS005</span></div>
<div class="t" style="left:386.00px;top:259.00px;justify-content:center"><span style="font-size:6.1px;font-weight:400;color:#333;transform:scaleX(0.9346);transform-origin:center center;-webkit-text-stroke:0.25px #333;">30</span></div>
<div class="t" style="left:565.70px;top:259.00px;justify-content:center"><span style="font-size:6.1px;font-weight:400;color:#333;transform:scaleX(0.9346);transform-origin:center center;-webkit-text-stroke:0.25px #333;">0</span></div>
<div class="t" style="left:735.50px;top:259.00px;justify-content:flex-end"><span style="font-size:6.1px;font-weight:400;color:#333;transform:scaleX(0.9109);transform-origin:right center;-webkit-text-stroke:0.25px #333;">14-11</span></div>
<div class="t" style="left:745.50px;top:259.00px;justify-content:center"><span style="font-size:6.1px;font-weight:400;color:#333;transform:scaleX(0.9346);transform-origin:center center;-webkit-text-stroke:0.25px #333;">30</span></div>
<div class="t" style="left:886.50px;top:259.00px;justify-content:center"><span style="font-size:6.1px;font-weight:400;color:#333;transform:scaleX(0.9346);transform-origin:center center;-webkit-text-stroke:0.25px #333;">0</span></div>
<div class="t" style="left:278.00px;top:259.00px;justify-content:flex-end"><span style="font-size:6.21px;font-weight:400;color:#333;transform:scaleX(0.9647);transform-origin:right center;-webkit-text-stroke:0.25px #333;">$1,300,000</span></div>
<div class="t" style="left:343.90px;top:259.00px;justify-content:flex-end"><span style="font-size:6.21px;font-weight:400;color:#333;transform:scaleX(0.9336);transform-origin:right center;-webkit-text-stroke:0.25px #333;">$208,000</span></div>
<div class="t" style="left:457.80px;top:259.00px;justify-content:flex-end"><span style="font-size:6.21px;font-weight:400;color:#333;transform:scaleX(0.9647);transform-origin:right center;-webkit-text-stroke:0.25px #333;">$1,300,000</span></div>
<div class="t" style="left:523.80px;top:259.00px;justify-content:flex-end"><span style="font-size:6.21px;font-weight:400;color:#333;transform:scaleX(0.9336);transform-origin:right center;-webkit-text-stroke:0.25px #333;">$162,500</span></div>
<div class="t" style="left:637.80px;top:259.00px;justify-content:flex-end"><span style="font-size:6.21px;font-weight:400;color:#333;transform:scaleX(0.9344);transform-origin:right center;-webkit-text-stroke:0.25px #333;">$0</span></div>
<div class="t" style="left:703.65px;top:259.00px;justify-content:flex-end"><span style="font-size:6.21px;font-weight:400;color:#333;transform:scaleX(0.9344);transform-origin:right center;-webkit-text-stroke:0.25px #333;">$0</span></div>
<div class="t" style="left:817.60px;top:259.00px;justify-content:flex-end"><span style="font-size:6.21px;font-weight:400;color:#333;transform:scaleX(0.9647);transform-origin:right center;-webkit-text-stroke:0.25px #333;">$1,300,000</span></div>
<div class="t" style="left:875.60px;top:259.00px;justify-content:flex-end"><span style="font-size:6.21px;font-weight:400;color:#333;transform:scaleX(0.9317);transform-origin:right center;-webkit-text-stroke:0.25px #333;">$56,600</span></div>
<div class="t" style="left:958.70px;top:259.00px;justify-content:flex-end"><span style="font-size:6.21px;font-weight:400;color:#333;transform:scaleX(0.9344);transform-origin:right center;-webkit-text-stroke:0.25px #333;">$0</span></div>
<div class="t" style="left:1016.40px;top:259.00px;justify-content:flex-end"><span style="font-size:6.21px;font-weight:400;color:#333;transform:scaleX(0.9344);transform-origin:right center;-webkit-text-stroke:0.25px #333;">$0</span></div>
<div class="t" style="left:27.50px;top:273.00px;justify-content:flex-start"><span style="font-size:10.38px;font-weight:700;color:#1c1c1c;transform:scaleX(0.9698);transform-origin:left center;-webkit-text-stroke:0.3px #1c1c1c;">Total</span></div>
<div class="t" style="left:76.70px;top:273.00px;justify-content:flex-start"><span style="font-size:10.38px;font-weight:700;color:#1c1c1c;transform:scaleX(0.9814);transform-origin:left center;-webkit-text-stroke:0.3px #1c1c1c;">Afiliados( 1)</span></div>
<div class="t" style="left:278.00px;top:273.00px;justify-content:flex-end"><span style="font-size:7.81px;font-weight:700;color:#1c1c1c;transform:scaleX(0.9389);transform-origin:right center;-webkit-text-stroke:0.3px #1c1c1c;">$1,300,000</span></div>
<div class="t" style="left:343.90px;top:273.00px;justify-content:flex-end"><span style="font-size:7.81px;font-weight:700;color:#1c1c1c;transform:scaleX(0.9087);transform-origin:right center;-webkit-text-stroke:0.3px #1c1c1c;">$208,000</span></div>
<div class="t" style="left:457.80px;top:273.00px;justify-content:flex-end"><span style="font-size:7.81px;font-weight:700;color:#1c1c1c;transform:scaleX(0.9389);transform-origin:right center;-webkit-text-stroke:0.3px #1c1c1c;">$1,300,000</span></div>
<div class="t" style="left:523.80px;top:273.00px;justify-content:flex-end"><span style="font-size:7.81px;font-weight:700;color:#1c1c1c;transform:scaleX(0.9087);transform-origin:right center;-webkit-text-stroke:0.3px #1c1c1c;">$162,500</span></div>
<div class="t" style="left:637.80px;top:273.00px;justify-content:flex-end"><span style="font-size:7.81px;font-weight:700;color:#1c1c1c;transform:scaleX(0.9094);transform-origin:right center;-webkit-text-stroke:0.3px #1c1c1c;">$0</span></div>
<div class="t" style="left:703.65px;top:273.00px;justify-content:flex-end"><span style="font-size:7.81px;font-weight:700;color:#1c1c1c;transform:scaleX(0.9094);transform-origin:right center;-webkit-text-stroke:0.3px #1c1c1c;">$0</span></div>
<div class="t" style="left:817.60px;top:273.00px;justify-content:flex-end"><span style="font-size:7.81px;font-weight:700;color:#1c1c1c;transform:scaleX(0.9389);transform-origin:right center;-webkit-text-stroke:0.3px #1c1c1c;">$1,300,000</span></div>
<div class="t" style="left:875.60px;top:273.00px;justify-content:flex-end"><span style="font-size:7.81px;font-weight:700;color:#1c1c1c;transform:scaleX(0.9068);transform-origin:right center;-webkit-text-stroke:0.3px #1c1c1c;">$56,600</span></div>
<div class="t" style="left:958.70px;top:273.00px;justify-content:flex-end"><span style="font-size:7.81px;font-weight:700;color:#1c1c1c;transform:scaleX(0.9094);transform-origin:right center;-webkit-text-stroke:0.3px #1c1c1c;">$0</span></div>
<div class="t" style="left:1016.40px;top:273.00px;justify-content:flex-end"><span style="font-size:7.81px;font-weight:700;color:#1c1c1c;transform:scaleX(0.9094);transform-origin:right center;-webkit-text-stroke:0.3px #1c1c1c;">$0</span></div>
<div class="t" style="left:27.20px;top:58.00px;justify-content:flex-start"><span style="font-size:8.56px;font-weight:400;color:#1c1c1c;transform:scaleX(0.8711);transform-origin:left center;-webkit-text-stroke:0.25px #1c1c1c;">DATOS GENERALES DEL APORTANTE</span></div>
<div class="t" style="left:60.38px;top:72.00px;justify-content:center"><span style="font-size:8.56px;font-weight:700;color:#1c1c1c;transform:scaleX(0.8627);transform-origin:center center;-webkit-text-stroke:0.3px #1c1c1c;">Identificación</span></div>
<div class="t" style="left:105.00px;top:72.00px;justify-content:center"><span style="font-size:8.56px;font-weight:700;color:#1c1c1c;transform:scaleX(0.8308);transform-origin:center center;-webkit-text-stroke:0.3px #1c1c1c;">dv</span></div>
<div class="t" style="left:177.75px;top:72.00px;justify-content:center"><span style="font-size:8.56px;font-weight:700;color:#1c1c1c;transform:scaleX(0.8212);transform-origin:center center;-webkit-text-stroke:0.3px #1c1c1c;">Razon Social</span></div>
<div class="t" style="left:310.25px;top:72.00px;justify-content:center"><span style="font-size:8.56px;font-weight:700;color:#1c1c1c;transform:scaleX(0.8419);transform-origin:center center;-webkit-text-stroke:0.3px #1c1c1c;">Clase Aportante</span></div>
<div class="t" style="left:422.62px;top:72.00px;justify-content:center"><span style="font-size:8.56px;font-weight:700;color:#1c1c1c;transform:scaleX(0.8301);transform-origin:center center;-webkit-text-stroke:0.3px #1c1c1c;">Sucursal Principal</span></div>
<div class="t" style="left:513.50px;top:72.00px;justify-content:center"><span style="font-size:8.56px;font-weight:700;color:#1c1c1c;transform:scaleX(0.8408);transform-origin:center center;-webkit-text-stroke:0.3px #1c1c1c;">Direccion</span></div>
<div class="t" style="left:614.75px;top:72.00px;justify-content:center"><span style="font-size:8.56px;font-weight:700;color:#1c1c1c;transform:scaleX(0.8584);transform-origin:center center;-webkit-text-stroke:0.3px #1c1c1c;">Ciudad-Departamento</span></div>
<div class="t" style="left:691.00px;top:72.00px;justify-content:center"><span style="font-size:8.56px;font-weight:700;color:#1c1c1c;transform:scaleX(0.8792);transform-origin:center center;-webkit-text-stroke:0.3px #1c1c1c;">Teléfono</span></div>
<div class="t" style="left:753.85px;top:72.00px;justify-content:center"><span style="font-size:8.56px;font-weight:700;color:#1c1c1c;transform:scaleX(0.8158);transform-origin:center center;-webkit-text-stroke:0.3px #1c1c1c;">Exonerado SENA e</span></div>
<div class="t" style="left:753.85px;top:81.00px;justify-content:center"><span style="font-size:8.56px;font-weight:700;color:#1c1c1c;transform:scaleX(0.7511);transform-origin:center center;-webkit-text-stroke:0.3px #1c1c1c;">ICBF</span></div>
<div class="t" style="left:27.00px;top:96.00px;justify-content:flex-start"><span style="font-size:6.85px;font-weight:400;color:#1c1c1c;transform:scaleX(0.8917);transform-origin:left center;-webkit-text-stroke:0.25px #1c1c1c;">CC 7723761</span></div>
<div class="t" style="left:117.00px;top:96.00px;justify-content:flex-start"><span style="font-size:6.85px;font-weight:400;color:#1c1c1c;transform:scaleX(0.8591);transform-origin:left center;-webkit-text-stroke:0.25px #1c1c1c;">RODRIGUEZ CASTRILLON DAIRO ANDRES</span></div>
<div class="t" style="left:244.70px;top:96.00px;justify-content:flex-start"><span style="font-size:6.85px;font-weight:400;color:#1c1c1c;transform:scaleX(0.8458);transform-origin:left center;-webkit-text-stroke:0.25px #1c1c1c;">INDEPENDIENTE</span></div>
<div class="t" style="left:381.70px;top:96.00px;justify-content:flex-start"><span style="font-size:6.85px;font-weight:400;color:#1c1c1c;transform:scaleX(0.8414);transform-origin:left center;-webkit-text-stroke:0.25px #1c1c1c;">PRINCIPAL</span></div>
<div class="t" style="left:469.70px;top:96.00px;justify-content:flex-start"><span style="font-size:6.85px;font-weight:400;color:#1c1c1c;transform:scaleX(0.9508);transform-origin:left center;-webkit-text-stroke:0.25px #1c1c1c;">Calle 19#47a-03</span></div>
<div class="t" style="left:563.50px;top:96.00px;justify-content:flex-start"><span style="font-size:6.85px;font-weight:400;color:#1c1c1c;transform:scaleX(0.8822);transform-origin:left center;-webkit-text-stroke:0.25px #1c1c1c;">NEIVA-HUILA</span></div>
<div class="t" style="left:672.00px;top:96.00px;justify-content:flex-start"><span style="font-size:6.85px;font-weight:400;color:#1c1c1c;transform:scaleX(0.8924);transform-origin:left center;-webkit-text-stroke:0.25px #1c1c1c;">8778075</span></div>
<div class="t" style="left:754.80px;top:96.00px;justify-content:center"><span style="font-size:6.85px;font-weight:400;color:#1c1c1c;transform:scaleX(0.8879);transform-origin:center center;-webkit-text-stroke:0.25px #1c1c1c;">No</span></div>
<div class="t" style="left:27.20px;top:111.00px;justify-content:flex-start"><span style="font-size:8.56px;font-weight:400;color:#1c1c1c;transform:scaleX(0.8841);transform-origin:left center;-webkit-text-stroke:0.25px #1c1c1c;">DATOS GENERALES DE LA LIQUIDACION</span></div>
<div class="t" style="left:68.50px;top:125.00px;justify-content:center"><span style="font-size:8.56px;font-weight:700;color:#1c1c1c;transform:scaleX(0.8379);transform-origin:center center;-webkit-text-stroke:0.3px #1c1c1c;">Periodo</span></div>
<div class="t" style="left:191.88px;top:125.00px;justify-content:center"><span style="font-size:8.56px;font-weight:700;color:#1c1c1c;transform:scaleX(0.8208);transform-origin:center center;-webkit-text-stroke:0.3px #1c1c1c;">Clave</span></div>
<div class="t" style="left:300.62px;top:125.00px;justify-content:center"><span style="font-size:8.56px;font-weight:700;color:#1c1c1c;transform:scaleX(0.8207);transform-origin:center center;-webkit-text-stroke:0.3px #1c1c1c;">Tipo</span></div>
<div class="t" style="left:399.62px;top:125.00px;justify-content:center"><span style="font-size:8.56px;font-weight:700;color:#1c1c1c;transform:scaleX(0.8286);transform-origin:center center;-webkit-text-stroke:0.3px #1c1c1c;">Fecha</span></div>
<div class="t" style="left:632.77px;top:125.00px;justify-content:center"><span style="font-size:8.56px;font-weight:700;color:#1c1c1c;transform:scaleX(0.7358);transform-origin:center center;-webkit-text-stroke:0.3px #1c1c1c;">Pago</span></div>
<div class="t" style="left:46.00px;top:139.00px;justify-content:center"><span style="font-size:8.56px;font-weight:700;color:#1c1c1c;transform:scaleX(0.8019);transform-origin:center center;-webkit-text-stroke:0.3px #1c1c1c;">Pensión</span></div>
<div class="t" style="left:90.00px;top:139.00px;justify-content:center"><span style="font-size:8.56px;font-weight:700;color:#1c1c1c;transform:scaleX(0.7852);transform-origin:center center;-webkit-text-stroke:0.3px #1c1c1c;">Salud</span></div>
<div class="t" style="left:152.50px;top:139.00px;justify-content:center"><span style="font-size:8.56px;font-weight:700;color:#1c1c1c;transform:scaleX(0.7358);transform-origin:center center;-webkit-text-stroke:0.3px #1c1c1c;">Pago</span></div>
<div class="t" style="left:231.88px;top:139.00px;justify-content:center"><span style="font-size:8.56px;font-weight:700;color:#1c1c1c;transform:scaleX(0.8341);transform-origin:center center;-webkit-text-stroke:0.3px #1c1c1c;">Planilla</span></div>
<div class="t" style="left:300.62px;top:139.00px;justify-content:center"><span style="font-size:8.56px;font-weight:700;color:#1c1c1c;transform:scaleX(0.8341);transform-origin:center center;-webkit-text-stroke:0.3px #1c1c1c;">Planilla</span></div>
<div class="t" style="left:363.38px;top:139.00px;justify-content:center"><span style="font-size:8.56px;font-weight:700;color:#1c1c1c;transform:scaleX(0.8807);transform-origin:center center;-webkit-text-stroke:0.3px #1c1c1c;">Limite</span></div>
<div class="t" style="left:433.00px;top:139.00px;justify-content:center"><span style="font-size:8.56px;font-weight:700;color:#1c1c1c;transform:scaleX(0.7358);transform-origin:center center;-webkit-text-stroke:0.3px #1c1c1c;">Pago</span></div>
<div class="t" style="left:542.75px;top:139.00px;justify-content:center"><span style="font-size:8.56px;font-weight:700;color:#1c1c1c;transform:scaleX(0.7645);transform-origin:center center;-webkit-text-stroke:0.3px #1c1c1c;">Banco</span></div>
<div class="t" style="left:645.88px;top:139.00px;justify-content:center"><span style="font-size:8.56px;font-weight:700;color:#1c1c1c;transform:scaleX(0.8017);transform-origin:center center;-webkit-text-stroke:0.3px #1c1c1c;">Dias Mora</span></div>
<div class="t" style="left:735.90px;top:139.00px;justify-content:center"><span style="font-size:8.56px;font-weight:700;color:#1c1c1c;transform:scaleX(0.8454);transform-origin:center center;-webkit-text-stroke:0.3px #1c1c1c;">Valor</span></div>
<div class="t" style="left:27.00px;top:154.00px;justify-content:flex-start"><span style="font-size:6.85px;font-weight:400;color:#1c1c1c;transform:scaleX(0.9467);transform-origin:left center;-webkit-text-stroke:0.25px #1c1c1c;">2024-05</span></div>
<div class="t" style="left:70.00px;top:154.00px;justify-content:flex-start"><span style="font-size:6.85px;font-weight:400;color:#1c1c1c;transform:scaleX(0.9467);transform-origin:left center;-webkit-text-stroke:0.25px #1c1c1c;">2024-05</span></div>
<div class="t" style="left:115.80px;top:154.00px;justify-content:flex-start"><span style="font-size:6.85px;font-weight:400;color:#1c1c1c;transform:scaleX(0.9187);transform-origin:left center;-webkit-text-stroke:0.25px #1c1c1c;">1000000043</span></div>
<div class="t" style="left:194.80px;top:154.00px;justify-content:flex-start"><span style="font-size:6.85px;font-weight:400;color:#1c1c1c;transform:scaleX(0.9344);transform-origin:left center;-webkit-text-stroke:0.25px #1c1c1c;">9467805100</span></div>
<div class="t" style="left:300.60px;top:154.00px;justify-content:center"><span style="font-size:6.85px;font-weight:400;color:#1c1c1c;transform:scaleX(0.9346);transform-origin:center center;-webkit-text-stroke:0.25px #1c1c1c;">I</span></div>
<div class="t" style="left:394.00px;top:154.00px;justify-content:flex-end"><span style="font-size:6.85px;font-weight:400;color:#1c1c1c;transform:scaleX(1.0413);transform-origin:right center;-webkit-text-stroke:0.25px #1c1c1c;">2024/06/18</span></div>
<div class="t" style="left:467.00px;top:154.00px;justify-content:flex-end"><span style="font-size:6.85px;font-weight:400;color:#1c1c1c;transform:scaleX(1.0413);transform-origin:right center;-webkit-text-stroke:0.25px #1c1c1c;">2024/06/13</span></div>
<div class="t" style="left:472.00px;top:154.00px;justify-content:flex-start"><span style="font-size:6.85px;font-weight:400;color:#1c1c1c;transform:scaleX(0.8724);transform-origin:left center;-webkit-text-stroke:0.25px #1c1c1c;">BANCO DE BOGOTA</span></div>
<div class="t" style="left:672.70px;top:154.00px;justify-content:flex-end"><span style="font-size:6.85px;font-weight:400;color:#1c1c1c;transform:scaleX(0.9346);transform-origin:right center;-webkit-text-stroke:0.25px #1c1c1c;">0</span></div>
<div class="t" style="left:794.20px;top:154.00px;justify-content:flex-end"><span style="font-size:6.85px;font-weight:400;color:#1c1c1c;transform:scaleX(0.9625);transform-origin:right center;-webkit-text-stroke:0.25px #1c1c1c;">$427,100</span></div>
<div class="t" style="left:27.20px;top:897.00px;justify-content:flex-start"><span style="font-size:8.56px;font-weight:400;color:#1c1c1c;transform:scaleX(0.8711);transform-origin:left center;-webkit-text-stroke:0.25px #1c1c1c;">DATOS GENERALES DEL APORTANTE</span></div>
<div class="t" style="left:60.38px;top:911.00px;justify-content:center"><span style="font-size:8.56px;font-weight:700;color:#1c1c1c;transform:scaleX(0.8627);transform-origin:center center;-webkit-text-stroke:0.3px #1c1c1c;">Identificación</span></div>
<div class="t" style="left:105.00px;top:911.00px;justify-content:center"><span style="font-size:8.56px;font-weight:700;color:#1c1c1c;transform:scaleX(0.8308);transform-origin:center center;-webkit-text-stroke:0.3px #1c1c1c;">dv</span></div>
<div class="t" style="left:177.75px;top:911.00px;justify-content:center"><span style="font-size:8.56px;font-weight:700;color:#1c1c1c;transform:scaleX(0.8212);transform-origin:center center;-webkit-text-stroke:0.3px #1c1c1c;">Razon Social</span></div>
<div class="t" style="left:310.25px;top:911.00px;justify-content:center"><span style="font-size:8.56px;font-weight:700;color:#1c1c1c;transform:scaleX(0.8419);transform-origin:center center;-webkit-text-stroke:0.3px #1c1c1c;">Clase Aportante</span></div>
<div class="t" style="left:422.62px;top:911.00px;justify-content:center"><span style="font-size:8.56px;font-weight:700;color:#1c1c1c;transform:scaleX(0.8301);transform-origin:center center;-webkit-text-stroke:0.3px #1c1c1c;">Sucursal Principal</span></div>
<div class="t" style="left:513.50px;top:911.00px;justify-content:center"><span style="font-size:8.56px;font-weight:700;color:#1c1c1c;transform:scaleX(0.8408);transform-origin:center center;-webkit-text-stroke:0.3px #1c1c1c;">Direccion</span></div>
<div class="t" style="left:614.75px;top:911.00px;justify-content:center"><span style="font-size:8.56px;font-weight:700;color:#1c1c1c;transform:scaleX(0.8584);transform-origin:center center;-webkit-text-stroke:0.3px #1c1c1c;">Ciudad-Departamento</span></div>
<div class="t" style="left:691.00px;top:911.00px;justify-content:center"><span style="font-size:8.56px;font-weight:700;color:#1c1c1c;transform:scaleX(0.8792);transform-origin:center center;-webkit-text-stroke:0.3px #1c1c1c;">Teléfono</span></div>
<div class="t" style="left:753.85px;top:911.00px;justify-content:center"><span style="font-size:8.56px;font-weight:700;color:#1c1c1c;transform:scaleX(0.8158);transform-origin:center center;-webkit-text-stroke:0.3px #1c1c1c;">Exonerado SENA e</span></div>
<div class="t" style="left:753.85px;top:920.00px;justify-content:center"><span style="font-size:8.56px;font-weight:700;color:#1c1c1c;transform:scaleX(0.7511);transform-origin:center center;-webkit-text-stroke:0.3px #1c1c1c;">ICBF</span></div>
<div class="t" style="left:27.00px;top:935.00px;justify-content:flex-start"><span style="font-size:6.85px;font-weight:400;color:#1c1c1c;transform:scaleX(0.8917);transform-origin:left center;-webkit-text-stroke:0.25px #1c1c1c;">CC 7723761</span></div>
<div class="t" style="left:117.00px;top:935.00px;justify-content:flex-start"><span style="font-size:6.85px;font-weight:400;color:#1c1c1c;transform:scaleX(0.8591);transform-origin:left center;-webkit-text-stroke:0.25px #1c1c1c;">RODRIGUEZ CASTRILLON DAIRO ANDRES</span></div>
<div class="t" style="left:244.70px;top:935.00px;justify-content:flex-start"><span style="font-size:6.85px;font-weight:400;color:#1c1c1c;transform:scaleX(0.8458);transform-origin:left center;-webkit-text-stroke:0.25px #1c1c1c;">INDEPENDIENTE</span></div>
<div class="t" style="left:381.70px;top:935.00px;justify-content:flex-start"><span style="font-size:6.85px;font-weight:400;color:#1c1c1c;transform:scaleX(0.8414);transform-origin:left center;-webkit-text-stroke:0.25px #1c1c1c;">PRINCIPAL</span></div>
<div class="t" style="left:469.70px;top:935.00px;justify-content:flex-start"><span style="font-size:6.85px;font-weight:400;color:#1c1c1c;transform:scaleX(0.9508);transform-origin:left center;-webkit-text-stroke:0.25px #1c1c1c;">Calle 19#47a-03</span></div>
<div class="t" style="left:563.50px;top:935.00px;justify-content:flex-start"><span style="font-size:6.85px;font-weight:400;color:#1c1c1c;transform:scaleX(0.8822);transform-origin:left center;-webkit-text-stroke:0.25px #1c1c1c;">NEIVA-HUILA</span></div>
<div class="t" style="left:672.00px;top:935.00px;justify-content:flex-start"><span style="font-size:6.85px;font-weight:400;color:#1c1c1c;transform:scaleX(0.8924);transform-origin:left center;-webkit-text-stroke:0.25px #1c1c1c;">8778075</span></div>
<div class="t" style="left:754.80px;top:935.00px;justify-content:center"><span style="font-size:6.85px;font-weight:400;color:#1c1c1c;transform:scaleX(0.8879);transform-origin:center center;-webkit-text-stroke:0.25px #1c1c1c;">No</span></div>
<div class="t" style="left:27.20px;top:950.00px;justify-content:flex-start"><span style="font-size:8.56px;font-weight:400;color:#1c1c1c;transform:scaleX(0.8841);transform-origin:left center;-webkit-text-stroke:0.25px #1c1c1c;">DATOS GENERALES DE LA LIQUIDACION</span></div>
<div class="t" style="left:68.50px;top:964.00px;justify-content:center"><span style="font-size:8.56px;font-weight:700;color:#1c1c1c;transform:scaleX(0.8379);transform-origin:center center;-webkit-text-stroke:0.3px #1c1c1c;">Periodo</span></div>
<div class="t" style="left:191.88px;top:964.00px;justify-content:center"><span style="font-size:8.56px;font-weight:700;color:#1c1c1c;transform:scaleX(0.8208);transform-origin:center center;-webkit-text-stroke:0.3px #1c1c1c;">Clave</span></div>
<div class="t" style="left:300.62px;top:964.00px;justify-content:center"><span style="font-size:8.56px;font-weight:700;color:#1c1c1c;transform:scaleX(0.8207);transform-origin:center center;-webkit-text-stroke:0.3px #1c1c1c;">Tipo</span></div>
<div class="t" style="left:399.62px;top:964.00px;justify-content:center"><span style="font-size:8.56px;font-weight:700;color:#1c1c1c;transform:scaleX(0.8286);transform-origin:center center;-webkit-text-stroke:0.3px #1c1c1c;">Fecha</span></div>
<div class="t" style="left:632.77px;top:964.00px;justify-content:center"><span style="font-size:8.56px;font-weight:700;color:#1c1c1c;transform:scaleX(0.7358);transform-origin:center center;-webkit-text-stroke:0.3px #1c1c1c;">Pago</span></div>
<div class="t" style="left:46.00px;top:978.00px;justify-content:center"><span style="font-size:8.56px;font-weight:700;color:#1c1c1c;transform:scaleX(0.8019);transform-origin:center center;-webkit-text-stroke:0.3px #1c1c1c;">Pensión</span></div>
<div class="t" style="left:90.00px;top:978.00px;justify-content:center"><span style="font-size:8.56px;font-weight:700;color:#1c1c1c;transform:scaleX(0.7852);transform-origin:center center;-webkit-text-stroke:0.3px #1c1c1c;">Salud</span></div>
<div class="t" style="left:152.50px;top:978.00px;justify-content:center"><span style="font-size:8.56px;font-weight:700;color:#1c1c1c;transform:scaleX(0.7358);transform-origin:center center;-webkit-text-stroke:0.3px #1c1c1c;">Pago</span></div>
<div class="t" style="left:231.88px;top:978.00px;justify-content:center"><span style="font-size:8.56px;font-weight:700;color:#1c1c1c;transform:scaleX(0.8341);transform-origin:center center;-webkit-text-stroke:0.3px #1c1c1c;">Planilla</span></div>
<div class="t" style="left:300.62px;top:978.00px;justify-content:center"><span style="font-size:8.56px;font-weight:700;color:#1c1c1c;transform:scaleX(0.8341);transform-origin:center center;-webkit-text-stroke:0.3px #1c1c1c;">Planilla</span></div>
<div class="t" style="left:363.38px;top:978.00px;justify-content:center"><span style="font-size:8.56px;font-weight:700;color:#1c1c1c;transform:scaleX(0.8807);transform-origin:center center;-webkit-text-stroke:0.3px #1c1c1c;">Limite</span></div>
<div class="t" style="left:433.00px;top:978.00px;justify-content:center"><span style="font-size:8.56px;font-weight:700;color:#1c1c1c;transform:scaleX(0.7358);transform-origin:center center;-webkit-text-stroke:0.3px #1c1c1c;">Pago</span></div>
<div class="t" style="left:542.75px;top:978.00px;justify-content:center"><span style="font-size:8.56px;font-weight:700;color:#1c1c1c;transform:scaleX(0.7645);transform-origin:center center;-webkit-text-stroke:0.3px #1c1c1c;">Banco</span></div>
<div class="t" style="left:645.88px;top:978.00px;justify-content:center"><span style="font-size:8.56px;font-weight:700;color:#1c1c1c;transform:scaleX(0.8017);transform-origin:center center;-webkit-text-stroke:0.3px #1c1c1c;">Dias Mora</span></div>
<div class="t" style="left:735.90px;top:978.00px;justify-content:center"><span style="font-size:8.56px;font-weight:700;color:#1c1c1c;transform:scaleX(0.8454);transform-origin:center center;-webkit-text-stroke:0.3px #1c1c1c;">Valor</span></div>
<div class="t" style="left:27.00px;top:993.00px;justify-content:flex-start"><span style="font-size:6.85px;font-weight:400;color:#1c1c1c;transform:scaleX(0.9467);transform-origin:left center;-webkit-text-stroke:0.25px #1c1c1c;">2024-05</span></div>
<div class="t" style="left:70.00px;top:993.00px;justify-content:flex-start"><span style="font-size:6.85px;font-weight:400;color:#1c1c1c;transform:scaleX(0.9467);transform-origin:left center;-webkit-text-stroke:0.25px #1c1c1c;">2024-05</span></div>
<div class="t" style="left:115.80px;top:993.00px;justify-content:flex-start"><span style="font-size:6.85px;font-weight:400;color:#1c1c1c;transform:scaleX(0.9187);transform-origin:left center;-webkit-text-stroke:0.25px #1c1c1c;">1000000043</span></div>
<div class="t" style="left:194.80px;top:993.00px;justify-content:flex-start"><span style="font-size:6.85px;font-weight:400;color:#1c1c1c;transform:scaleX(0.9344);transform-origin:left center;-webkit-text-stroke:0.25px #1c1c1c;">9467805100</span></div>
<div class="t" style="left:300.60px;top:993.00px;justify-content:center"><span style="font-size:6.85px;font-weight:400;color:#1c1c1c;transform:scaleX(0.9346);transform-origin:center center;-webkit-text-stroke:0.25px #1c1c1c;">I</span></div>
<div class="t" style="left:394.00px;top:993.00px;justify-content:flex-end"><span style="font-size:6.85px;font-weight:400;color:#1c1c1c;transform:scaleX(1.0413);transform-origin:right center;-webkit-text-stroke:0.25px #1c1c1c;">2024/06/18</span></div>
<div class="t" style="left:467.00px;top:993.00px;justify-content:flex-end"><span style="font-size:6.85px;font-weight:400;color:#1c1c1c;transform:scaleX(1.0413);transform-origin:right center;-webkit-text-stroke:0.25px #1c1c1c;">2024/06/13</span></div>
<div class="t" style="left:472.00px;top:993.00px;justify-content:flex-start"><span style="font-size:6.85px;font-weight:400;color:#1c1c1c;transform:scaleX(0.8724);transform-origin:left center;-webkit-text-stroke:0.25px #1c1c1c;">BANCO DE BOGOTA</span></div>
<div class="t" style="left:672.70px;top:993.00px;justify-content:flex-end"><span style="font-size:6.85px;font-weight:400;color:#1c1c1c;transform:scaleX(0.9346);transform-origin:right center;-webkit-text-stroke:0.25px #1c1c1c;">0</span></div>
<div class="t" style="left:794.20px;top:993.00px;justify-content:flex-end"><span style="font-size:6.85px;font-weight:400;color:#1c1c1c;transform:scaleX(0.9625);transform-origin:right center;-webkit-text-stroke:0.25px #1c1c1c;">$427,100</span></div>
<div class="t" style="left:27.00px;top:830.00px;justify-content:flex-start"><span style="font-size:11.13px;font-weight:400;color:#111;transform:scaleX(0.9462);transform-origin:left center;-webkit-text-stroke:0.4px #111;">Página 1 de 2</span></div>
<div class="t" style="left:667.00px;top:830.00px;justify-content:flex-start"><span style="font-size:11.13px;font-weight:400;color:#111;transform:scaleX(0.9818);transform-origin:left center;-webkit-text-stroke:0.4px #111;">2024/06/13 03:49 PM</span></div>
<div class="t" style="left:27.50px;top:1012.00px;justify-content:flex-start"><span style="font-size:9.63px;font-weight:700;color:#1c1c1c;transform:scaleX(0.9785);transform-origin:left center;-webkit-text-stroke:0.3px #1c1c1c;">RESUMEN DE PAGO</span></div>
<div class="t" style="left:27.50px;top:1029.00px;justify-content:flex-start"><span style="font-size:8.99px;font-weight:700;color:#e4fffa;transform:scaleX(0.8922);transform-origin:left center;-webkit-text-stroke:0.3px #e4fffa;">RIESGO</span></div>
<div class="t" style="left:222.00px;top:1029.00px;justify-content:center"><span style="font-size:8.99px;font-weight:700;color:#e4fffa;transform:scaleX(0.9270);transform-origin:center center;-webkit-text-stroke:0.3px #e4fffa;">CODIGO</span></div>
<div class="t" style="left:277.00px;top:1029.00px;justify-content:center"><span style="font-size:8.99px;font-weight:700;color:#e4fffa;transform:scaleX(0.9529);transform-origin:center center;-webkit-text-stroke:0.3px #e4fffa;">NIT</span></div>
<div class="t" style="left:316.50px;top:1029.00px;justify-content:center"><span style="font-size:8.99px;font-weight:700;color:#e4fffa;transform:scaleX(0.9208);transform-origin:center center;-webkit-text-stroke:0.3px #e4fffa;">DV</span></div>
<div class="t" style="left:363.00px;top:1029.00px;justify-content:center"><span style="font-size:8.99px;font-weight:700;color:#e4fffa;transform:scaleX(0.9330);transform-origin:center center;-webkit-text-stroke:0.3px #e4fffa;">AFILIADOS</span></div>
<div class="t" style="left:435.50px;top:1029.00px;justify-content:center"><span style="font-size:8.99px;font-weight:700;color:#e4fffa;transform:scaleX(0.9661);transform-origin:center center;-webkit-text-stroke:0.3px #e4fffa;">VALOR LIQUIDADO</span></div>
<div class="t" style="left:526.00px;top:1029.00px;justify-content:center"><span style="font-size:8.99px;font-weight:700;color:#e4fffa;transform:scaleX(0.9256);transform-origin:center center;-webkit-text-stroke:0.3px #e4fffa;">INTERESES MORA</span></div>
<div class="t" style="left:613.60px;top:1029.00px;justify-content:center"><span style="font-size:8.99px;font-weight:700;color:#e4fffa;transform:scaleX(0.9183);transform-origin:center center;-webkit-text-stroke:0.3px #e4fffa;">SALDOS E</span></div>
<div class="t" style="left:614.40px;top:1039.00px;justify-content:center"><span style="font-size:8.99px;font-weight:700;color:#e4fffa;transform:scaleX(0.9279);transform-origin:center center;-webkit-text-stroke:0.3px #e4fffa;">INCAPACIDADES</span></div>
<div class="t" style="left:727.30px;top:1029.00px;justify-content:center"><span style="font-size:8.99px;font-weight:700;color:#e4fffa;transform:scaleX(0.9684);transform-origin:center center;-webkit-text-stroke:0.3px #e4fffa;">VALOR A PAGAR</span></div>
<div class="t" style="left:27.30px;top:1056.00px;justify-content:flex-start"><span style="font-size:8.45px;font-weight:400;color:#2a2a2a;transform:scaleX(0.8548);transform-origin:left center;-webkit-text-stroke:0.25px #2a2a2a;">AFP (ADMINISTRADORAS: 1)</span></div>
<div class="t" style="left:385.30px;top:1056.00px;justify-content:flex-end"><span style="font-size:8.45px;font-weight:400;color:#2a2a2a;transform:scaleX(0.9346);transform-origin:right center;-webkit-text-stroke:0.25px #2a2a2a;">1</span></div>
<div class="t" style="left:479.00px;top:1056.00px;justify-content:flex-end"><span style="font-size:8.45px;font-weight:400;color:#2a2a2a;transform:scaleX(0.9278);transform-origin:right center;-webkit-text-stroke:0.25px #2a2a2a;">$208,000</span></div>
<div class="t" style="left:567.80px;top:1056.00px;justify-content:flex-end"><span style="font-size:8.45px;font-weight:400;color:#2a2a2a;transform:scaleX(0.9150);transform-origin:right center;-webkit-text-stroke:0.25px #2a2a2a;">$0</span></div>
<div class="t" style="left:655.60px;top:1056.00px;justify-content:flex-end"><span style="font-size:8.45px;font-weight:400;color:#2a2a2a;transform:scaleX(0.9150);transform-origin:right center;-webkit-text-stroke:0.25px #2a2a2a;">$0</span></div>
<div class="t" style="left:793.30px;top:1056.00px;justify-content:flex-end"><span style="font-size:8.45px;font-weight:400;color:#2a2a2a;transform:scaleX(0.9278);transform-origin:right center;-webkit-text-stroke:0.25px #2a2a2a;">$208,000</span></div>
<div class="t" style="left:39.70px;top:1073.00px;justify-content:flex-start"><span style="font-size:8.45px;font-weight:400;color:#2a2a2a;transform:scaleX(0.8139);transform-origin:left center;-webkit-text-stroke:0.25px #2a2a2a;">PORVENIR</span></div>
<div class="t" style="left:221.80px;top:1073.00px;justify-content:center"><span style="font-size:8.45px;font-weight:400;color:#2a2a2a;transform:scaleX(0.8901);transform-origin:center center;-webkit-text-stroke:0.25px #2a2a2a;">230301</span></div>
<div class="t" style="left:305.10px;top:1073.00px;justify-content:flex-end"><span style="font-size:8.45px;font-weight:400;color:#2a2a2a;transform:scaleX(0.9448);transform-origin:right center;-webkit-text-stroke:0.25px #2a2a2a;">800,224,808</span></div>
<div class="t" style="left:324.40px;top:1073.00px;justify-content:flex-end"><span style="font-size:8.45px;font-weight:400;color:#2a2a2a;transform:scaleX(0.9346);transform-origin:right center;-webkit-text-stroke:0.25px #2a2a2a;">8</span></div>
<div class="t" style="left:385.30px;top:1073.00px;justify-content:flex-end"><span style="font-size:8.45px;font-weight:400;color:#2a2a2a;transform:scaleX(0.9346);transform-origin:right center;-webkit-text-stroke:0.25px #2a2a2a;">1</span></div>
<div class="t" style="left:479.00px;top:1073.00px;justify-content:flex-end"><span style="font-size:8.45px;font-weight:400;color:#2a2a2a;transform:scaleX(0.9278);transform-origin:right center;-webkit-text-stroke:0.25px #2a2a2a;">$208,000</span></div>
<div class="t" style="left:567.80px;top:1073.00px;justify-content:flex-end"><span style="font-size:8.45px;font-weight:400;color:#2a2a2a;transform:scaleX(0.9150);transform-origin:right center;-webkit-text-stroke:0.25px #2a2a2a;">$0</span></div>
<div class="t" style="left:655.60px;top:1073.00px;justify-content:flex-end"><span style="font-size:8.45px;font-weight:400;color:#2a2a2a;transform:scaleX(0.9150);transform-origin:right center;-webkit-text-stroke:0.25px #2a2a2a;">$0</span></div>
<div class="t" style="left:793.30px;top:1073.00px;justify-content:flex-end"><span style="font-size:8.45px;font-weight:400;color:#2a2a2a;transform:scaleX(0.9278);transform-origin:right center;-webkit-text-stroke:0.25px #2a2a2a;">$208,000</span></div>
<div class="t" style="left:27.30px;top:1090.00px;justify-content:flex-start"><span style="font-size:8.45px;font-weight:400;color:#2a2a2a;transform:scaleX(0.8560);transform-origin:left center;-webkit-text-stroke:0.25px #2a2a2a;">ARL (ADMINISTRADORAS: 1)</span></div>
<div class="t" style="left:385.30px;top:1090.00px;justify-content:flex-end"><span style="font-size:8.45px;font-weight:400;color:#2a2a2a;transform:scaleX(0.9346);transform-origin:right center;-webkit-text-stroke:0.25px #2a2a2a;">1</span></div>
<div class="t" style="left:479.00px;top:1090.00px;justify-content:flex-end"><span style="font-size:8.45px;font-weight:400;color:#2a2a2a;transform:scaleX(0.9265);transform-origin:right center;-webkit-text-stroke:0.25px #2a2a2a;">$56,600</span></div>
<div class="t" style="left:567.80px;top:1090.00px;justify-content:flex-end"><span style="font-size:8.45px;font-weight:400;color:#2a2a2a;transform:scaleX(0.9150);transform-origin:right center;-webkit-text-stroke:0.25px #2a2a2a;">$0</span></div>
<div class="t" style="left:655.60px;top:1090.00px;justify-content:flex-end"><span style="font-size:8.45px;font-weight:400;color:#2a2a2a;transform:scaleX(0.9150);transform-origin:right center;-webkit-text-stroke:0.25px #2a2a2a;">$0</span></div>
<div class="t" style="left:793.30px;top:1090.00px;justify-content:flex-end"><span style="font-size:8.45px;font-weight:400;color:#2a2a2a;transform:scaleX(0.9265);transform-origin:right center;-webkit-text-stroke:0.25px #2a2a2a;">$56,600</span></div>
<div class="t" style="left:39.70px;top:1107.00px;justify-content:flex-start"><span style="font-size:8.45px;font-weight:400;color:#2a2a2a;transform:scaleX(0.8224);transform-origin:left center;-webkit-text-stroke:0.25px #2a2a2a;">ARL SURA</span></div>
<div class="t" style="left:221.80px;top:1107.00px;justify-content:center"><span style="font-size:8.45px;font-weight:400;color:#2a2a2a;transform:scaleX(0.9006);transform-origin:center center;-webkit-text-stroke:0.25px #2a2a2a;">14-11</span></div>
<div class="t" style="left:305.10px;top:1107.00px;justify-content:flex-end"><span style="font-size:8.45px;font-weight:400;color:#2a2a2a;transform:scaleX(0.9448);transform-origin:right center;-webkit-text-stroke:0.25px #2a2a2a;">890,903,790</span></div>
<div class="t" style="left:324.40px;top:1107.00px;justify-content:flex-end"><span style="font-size:8.45px;font-weight:400;color:#2a2a2a;transform:scaleX(0.9346);transform-origin:right center;-webkit-text-stroke:0.25px #2a2a2a;">5</span></div>
<div class="t" style="left:385.30px;top:1107.00px;justify-content:flex-end"><span style="font-size:8.45px;font-weight:400;color:#2a2a2a;transform:scaleX(0.9346);transform-origin:right center;-webkit-text-stroke:0.25px #2a2a2a;">1</span></div>
<div class="t" style="left:479.00px;top:1107.00px;justify-content:flex-end"><span style="font-size:8.45px;font-weight:400;color:#2a2a2a;transform:scaleX(0.9265);transform-origin:right center;-webkit-text-stroke:0.25px #2a2a2a;">$56,600</span></div>
<div class="t" style="left:567.80px;top:1107.00px;justify-content:flex-end"><span style="font-size:8.45px;font-weight:400;color:#2a2a2a;transform:scaleX(0.9150);transform-origin:right center;-webkit-text-stroke:0.25px #2a2a2a;">$0</span></div>
<div class="t" style="left:655.60px;top:1107.00px;justify-content:flex-end"><span style="font-size:8.45px;font-weight:400;color:#2a2a2a;transform:scaleX(0.9150);transform-origin:right center;-webkit-text-stroke:0.25px #2a2a2a;">$0</span></div>
<div class="t" style="left:793.30px;top:1107.00px;justify-content:flex-end"><span style="font-size:8.45px;font-weight:400;color:#2a2a2a;transform:scaleX(0.9265);transform-origin:right center;-webkit-text-stroke:0.25px #2a2a2a;">$56,600</span></div>
<div class="t" style="left:27.30px;top:1125.00px;justify-content:flex-start"><span style="font-size:8.45px;font-weight:400;color:#2a2a2a;transform:scaleX(0.8459);transform-origin:left center;-webkit-text-stroke:0.25px #2a2a2a;">EPS (ADMINISTRADORAS: 1)</span></div>
<div class="t" style="left:385.30px;top:1125.00px;justify-content:flex-end"><span style="font-size:8.45px;font-weight:400;color:#2a2a2a;transform:scaleX(0.9346);transform-origin:right center;-webkit-text-stroke:0.25px #2a2a2a;">1</span></div>
<div class="t" style="left:479.00px;top:1125.00px;justify-content:flex-end"><span style="font-size:8.45px;font-weight:400;color:#2a2a2a;transform:scaleX(0.9278);transform-origin:right center;-webkit-text-stroke:0.25px #2a2a2a;">$162,500</span></div>
<div class="t" style="left:567.80px;top:1125.00px;justify-content:flex-end"><span style="font-size:8.45px;font-weight:400;color:#2a2a2a;transform:scaleX(0.9150);transform-origin:right center;-webkit-text-stroke:0.25px #2a2a2a;">$0</span></div>
<div class="t" style="left:655.60px;top:1125.00px;justify-content:flex-end"><span style="font-size:8.45px;font-weight:400;color:#2a2a2a;transform:scaleX(0.9150);transform-origin:right center;-webkit-text-stroke:0.25px #2a2a2a;">$0</span></div>
<div class="t" style="left:793.30px;top:1125.00px;justify-content:flex-end"><span style="font-size:8.45px;font-weight:400;color:#2a2a2a;transform:scaleX(0.9278);transform-origin:right center;-webkit-text-stroke:0.25px #2a2a2a;">$162,500</span></div>
<div class="t" style="left:39.70px;top:1143.00px;justify-content:flex-start"><span style="font-size:8.45px;font-weight:400;color:#2a2a2a;transform:scaleX(0.8359);transform-origin:left center;-webkit-text-stroke:0.25px #2a2a2a;">SANITAS</span></div>
<div class="t" style="left:221.80px;top:1143.00px;justify-content:center"><span style="font-size:8.45px;font-weight:400;color:#2a2a2a;transform:scaleX(0.8740);transform-origin:center center;-webkit-text-stroke:0.25px #2a2a2a;">EPS005</span></div>
<div class="t" style="left:305.10px;top:1143.00px;justify-content:flex-end"><span style="font-size:8.45px;font-weight:400;color:#2a2a2a;transform:scaleX(0.9448);transform-origin:right center;-webkit-text-stroke:0.25px #2a2a2a;">800,251,440</span></div>
<div class="t" style="left:324.40px;top:1143.00px;justify-content:flex-end"><span style="font-size:8.45px;font-weight:400;color:#2a2a2a;transform:scaleX(0.9346);transform-origin:right center;-webkit-text-stroke:0.25px #2a2a2a;">6</span></div>
<div class="t" style="left:385.30px;top:1143.00px;justify-content:flex-end"><span style="font-size:8.45px;font-weight:400;color:#2a2a2a;transform:scaleX(0.9346);transform-origin:right center;-webkit-text-stroke:0.25px #2a2a2a;">1</span></div>
<div class="t" style="left:479.00px;top:1143.00px;justify-content:flex-end"><span style="font-size:8.45px;font-weight:400;color:#2a2a2a;transform:scaleX(0.9278);transform-origin:right center;-webkit-text-stroke:0.25px #2a2a2a;">$162,500</span></div>
<div class="t" style="left:567.80px;top:1143.00px;justify-content:flex-end"><span style="font-size:8.45px;font-weight:400;color:#2a2a2a;transform:scaleX(0.9150);transform-origin:right center;-webkit-text-stroke:0.25px #2a2a2a;">$0</span></div>
<div class="t" style="left:655.60px;top:1143.00px;justify-content:flex-end"><span style="font-size:8.45px;font-weight:400;color:#2a2a2a;transform:scaleX(0.9150);transform-origin:right center;-webkit-text-stroke:0.25px #2a2a2a;">$0</span></div>
<div class="t" style="left:793.30px;top:1143.00px;justify-content:flex-end"><span style="font-size:8.45px;font-weight:400;color:#2a2a2a;transform:scaleX(0.9278);transform-origin:right center;-webkit-text-stroke:0.25px #2a2a2a;">$162,500</span></div>
<div class="t" style="left:27.50px;top:1160.00px;justify-content:flex-start"><span style="font-size:9.2px;font-weight:700;color:#e4fffa;transform:scaleX(0.9661);transform-origin:left center;-webkit-text-stroke:0.3px #e4fffa;">TOTAL</span></div>
<div class="t" style="left:385.30px;top:1160.00px;justify-content:flex-end"><span style="font-size:8.99px;font-weight:700;color:#e4fffa;transform:scaleX(0.9346);transform-origin:right center;-webkit-text-stroke:0.3px #e4fffa;">1</span></div>
<div class="t" style="left:479.00px;top:1159.00px;justify-content:flex-end"><span style="font-size:10.27px;font-weight:700;color:#e4fffa;transform:scaleX(0.9851);transform-origin:right center;-webkit-text-stroke:0.3px #e4fffa;">$427,100</span></div>
<div class="t" style="left:567.50px;top:1159.00px;justify-content:flex-end"><span style="font-size:10.27px;font-weight:700;color:#e4fffa;transform:scaleX(0.9629);transform-origin:right center;-webkit-text-stroke:0.3px #e4fffa;">$0</span></div>
<div class="t" style="left:655.60px;top:1159.00px;justify-content:flex-end"><span style="font-size:10.27px;font-weight:700;color:#e4fffa;transform:scaleX(0.9629);transform-origin:right center;-webkit-text-stroke:0.3px #e4fffa;">$0</span></div>
<div class="t" style="left:793.30px;top:1159.00px;justify-content:flex-end"><span style="font-size:10.27px;font-weight:700;color:#e4fffa;transform:scaleX(0.9688);transform-origin:right center;-webkit-text-stroke:0.3px #e4fffa;">$427,100</span></div>
</div>
</body></html>
